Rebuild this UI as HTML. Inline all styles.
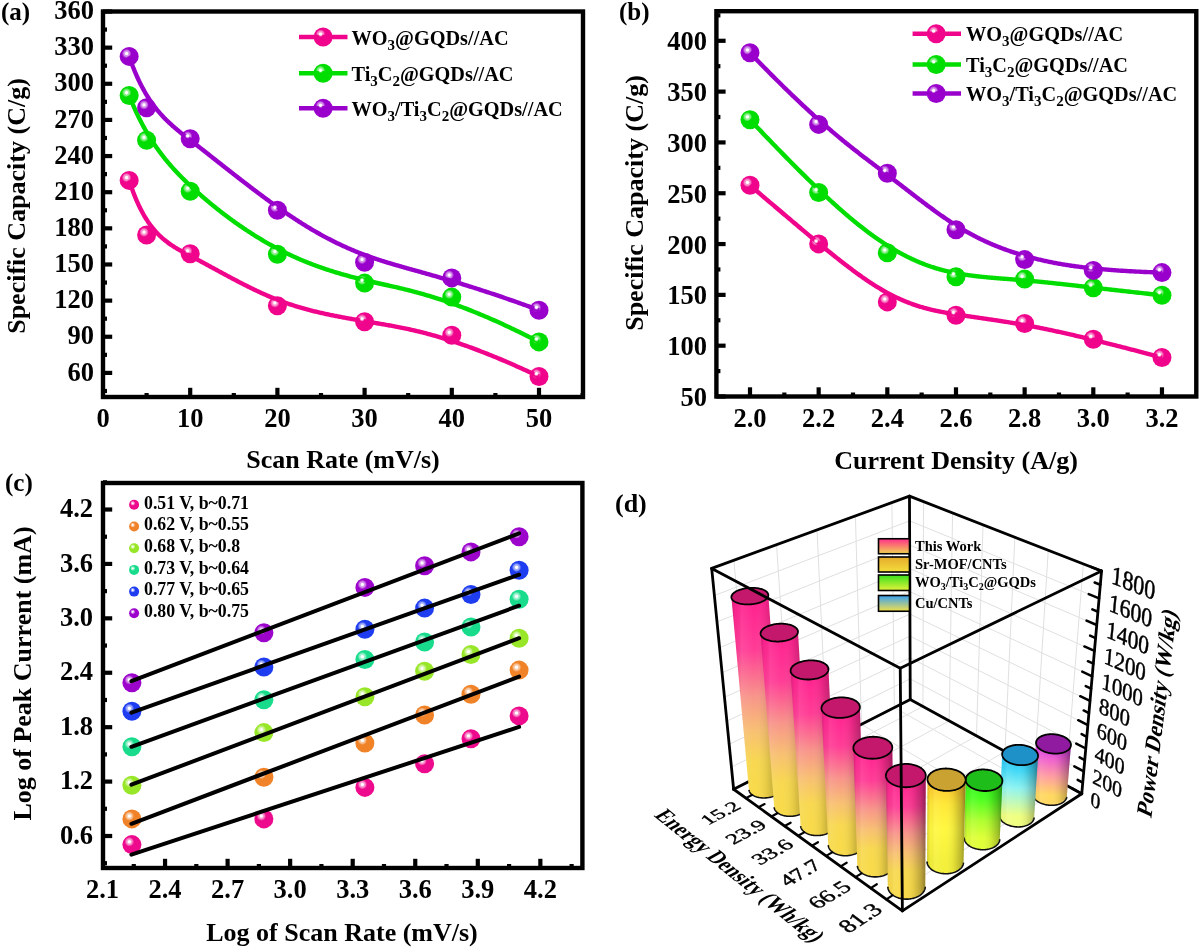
<!DOCTYPE html>
<html><head><meta charset="utf-8"><style>
html,body{margin:0;padding:0;background:#fff;}
svg{display:block;will-change:transform;}
text{font-family:"Liberation Serif",serif;}
</style></head><body>
<svg width="1200" height="947" viewBox="0 0 1200 947">
<defs><radialGradient id="g_pink" cx="0.365" cy="0.35" r="0.62"><stop offset="0" stop-color="#ffffff"/><stop offset="0.1" stop-color="#ffffff" stop-opacity="0.95"/><stop offset="0.24" stop-color="#f0048c" stop-opacity="0.45"/><stop offset="0.4" stop-color="#f0048c"/><stop offset="1" stop-color="#f0048c"/></radialGradient><radialGradient id="g_green" cx="0.365" cy="0.35" r="0.62"><stop offset="0" stop-color="#ffffff"/><stop offset="0.1" stop-color="#ffffff" stop-opacity="0.95"/><stop offset="0.24" stop-color="#00dd00" stop-opacity="0.45"/><stop offset="0.4" stop-color="#00dd00"/><stop offset="1" stop-color="#00dd00"/></radialGradient><radialGradient id="g_purple" cx="0.365" cy="0.35" r="0.62"><stop offset="0" stop-color="#ffffff"/><stop offset="0.1" stop-color="#ffffff" stop-opacity="0.95"/><stop offset="0.24" stop-color="#9a00cc" stop-opacity="0.45"/><stop offset="0.4" stop-color="#9a00cc"/><stop offset="1" stop-color="#9a00cc"/></radialGradient><radialGradient id="g_cpink" cx="0.365" cy="0.35" r="0.62"><stop offset="0" stop-color="#ffffff"/><stop offset="0.1" stop-color="#ffffff" stop-opacity="0.95"/><stop offset="0.24" stop-color="#ee0a8c" stop-opacity="0.45"/><stop offset="0.4" stop-color="#ee0a8c"/><stop offset="1" stop-color="#ee0a8c"/></radialGradient><radialGradient id="g_corange" cx="0.365" cy="0.35" r="0.62"><stop offset="0" stop-color="#ffffff"/><stop offset="0.1" stop-color="#ffffff" stop-opacity="0.95"/><stop offset="0.24" stop-color="#f08228" stop-opacity="0.45"/><stop offset="0.4" stop-color="#f08228"/><stop offset="1" stop-color="#f08228"/></radialGradient><radialGradient id="g_clime" cx="0.365" cy="0.35" r="0.62"><stop offset="0" stop-color="#ffffff"/><stop offset="0.1" stop-color="#ffffff" stop-opacity="0.95"/><stop offset="0.24" stop-color="#98e628" stop-opacity="0.45"/><stop offset="0.4" stop-color="#98e628"/><stop offset="1" stop-color="#98e628"/></radialGradient><radialGradient id="g_cteal" cx="0.365" cy="0.35" r="0.62"><stop offset="0" stop-color="#ffffff"/><stop offset="0.1" stop-color="#ffffff" stop-opacity="0.95"/><stop offset="0.24" stop-color="#18dc8c" stop-opacity="0.45"/><stop offset="0.4" stop-color="#18dc8c"/><stop offset="1" stop-color="#18dc8c"/></radialGradient><radialGradient id="g_cblue" cx="0.365" cy="0.35" r="0.62"><stop offset="0" stop-color="#ffffff"/><stop offset="0.1" stop-color="#ffffff" stop-opacity="0.95"/><stop offset="0.24" stop-color="#1e3cf0" stop-opacity="0.45"/><stop offset="0.4" stop-color="#1e3cf0"/><stop offset="1" stop-color="#1e3cf0"/></radialGradient><radialGradient id="g_cpurple" cx="0.365" cy="0.35" r="0.62"><stop offset="0" stop-color="#ffffff"/><stop offset="0.1" stop-color="#ffffff" stop-opacity="0.95"/><stop offset="0.24" stop-color="#9c04cc" stop-opacity="0.45"/><stop offset="0.4" stop-color="#9c04cc"/><stop offset="1" stop-color="#9c04cc"/></radialGradient><linearGradient id="bg0" gradientUnits="userSpaceOnUse" x1="749.88" y1="596" x2="765.62" y2="787.94"><stop offset="0" stop-color="#ff1e8e"/><stop offset="0.28" stop-color="#ff3c96"/><stop offset="0.52" stop-color="#f8948a"/><stop offset="0.7" stop-color="#f8c072"/><stop offset="0.86" stop-color="#f8d850"/><stop offset="1" stop-color="#f8da4a"/></linearGradient><linearGradient id="bs0" gradientUnits="userSpaceOnUse" x1="731.4" y1="0" x2="782.31" y2="0"><stop offset="0" stop-color="#000" stop-opacity="0.16"/><stop offset="0.08" stop-color="#000" stop-opacity="0.02"/><stop offset="0.2" stop-color="#fff" stop-opacity="0.08"/><stop offset="0.45" stop-color="#fff" stop-opacity="0"/><stop offset="0.7" stop-color="#000" stop-opacity="0.08"/><stop offset="0.88" stop-color="#000" stop-opacity="0.24"/><stop offset="1" stop-color="#000" stop-opacity="0.42"/></linearGradient><linearGradient id="bg1" gradientUnits="userSpaceOnUse" x1="779.3" y1="632.49" x2="791.24" y2="805.85"><stop offset="0" stop-color="#ff1e8e"/><stop offset="0.28" stop-color="#ff3c96"/><stop offset="0.52" stop-color="#f8948a"/><stop offset="0.7" stop-color="#f8c072"/><stop offset="0.86" stop-color="#f8d850"/><stop offset="1" stop-color="#f8da4a"/></linearGradient><linearGradient id="bs1" gradientUnits="userSpaceOnUse" x1="760.6" y1="0" x2="808.28" y2="0"><stop offset="0" stop-color="#000" stop-opacity="0.16"/><stop offset="0.08" stop-color="#000" stop-opacity="0.02"/><stop offset="0.2" stop-color="#fff" stop-opacity="0.08"/><stop offset="0.45" stop-color="#fff" stop-opacity="0"/><stop offset="0.7" stop-color="#000" stop-opacity="0.08"/><stop offset="0.88" stop-color="#000" stop-opacity="0.24"/><stop offset="1" stop-color="#000" stop-opacity="0.42"/></linearGradient><linearGradient id="bg2" gradientUnits="userSpaceOnUse" x1="809.56" y1="669.81" x2="818.04" y2="824.59"><stop offset="0" stop-color="#ff1e8e"/><stop offset="0.28" stop-color="#ff3c96"/><stop offset="0.52" stop-color="#f8948a"/><stop offset="0.7" stop-color="#f8c072"/><stop offset="0.86" stop-color="#f8d850"/><stop offset="1" stop-color="#f8da4a"/></linearGradient><linearGradient id="bs2" gradientUnits="userSpaceOnUse" x1="790.62" y1="0" x2="835.46" y2="0"><stop offset="0" stop-color="#000" stop-opacity="0.16"/><stop offset="0.08" stop-color="#000" stop-opacity="0.02"/><stop offset="0.2" stop-color="#fff" stop-opacity="0.08"/><stop offset="0.45" stop-color="#fff" stop-opacity="0"/><stop offset="0.7" stop-color="#000" stop-opacity="0.08"/><stop offset="0.88" stop-color="#000" stop-opacity="0.24"/><stop offset="1" stop-color="#000" stop-opacity="0.42"/></linearGradient><linearGradient id="bg3" gradientUnits="userSpaceOnUse" x1="840.69" y1="707.52" x2="846.13" y2="844.22"><stop offset="0" stop-color="#ff1e8e"/><stop offset="0.28" stop-color="#ff3c96"/><stop offset="0.52" stop-color="#f8948a"/><stop offset="0.7" stop-color="#f8c072"/><stop offset="0.86" stop-color="#f8d850"/><stop offset="1" stop-color="#f8da4a"/></linearGradient><linearGradient id="bs3" gradientUnits="userSpaceOnUse" x1="821.49" y1="0" x2="863.96" y2="0"><stop offset="0" stop-color="#000" stop-opacity="0.16"/><stop offset="0.08" stop-color="#000" stop-opacity="0.02"/><stop offset="0.2" stop-color="#fff" stop-opacity="0.08"/><stop offset="0.45" stop-color="#fff" stop-opacity="0"/><stop offset="0.7" stop-color="#000" stop-opacity="0.08"/><stop offset="0.88" stop-color="#000" stop-opacity="0.24"/><stop offset="1" stop-color="#000" stop-opacity="0.42"/></linearGradient><linearGradient id="bg4" gradientUnits="userSpaceOnUse" x1="872.82" y1="747.58" x2="875.59" y2="864.82"><stop offset="0" stop-color="#ff1e8e"/><stop offset="0.28" stop-color="#ff3c96"/><stop offset="0.52" stop-color="#f8948a"/><stop offset="0.7" stop-color="#f8c072"/><stop offset="0.86" stop-color="#f8d850"/><stop offset="1" stop-color="#f8da4a"/></linearGradient><linearGradient id="bs4" gradientUnits="userSpaceOnUse" x1="853.34" y1="0" x2="893.85" y2="0"><stop offset="0" stop-color="#000" stop-opacity="0.16"/><stop offset="0.08" stop-color="#000" stop-opacity="0.02"/><stop offset="0.2" stop-color="#fff" stop-opacity="0.08"/><stop offset="0.45" stop-color="#fff" stop-opacity="0"/><stop offset="0.7" stop-color="#000" stop-opacity="0.08"/><stop offset="0.88" stop-color="#000" stop-opacity="0.24"/><stop offset="1" stop-color="#000" stop-opacity="0.42"/></linearGradient><linearGradient id="bg5" gradientUnits="userSpaceOnUse" x1="1053.48" y1="743.77" x2="1049.8" y2="795.09"><stop offset="0" stop-color="#c82ee6"/><stop offset="0.3" stop-color="#f060d0"/><stop offset="0.65" stop-color="#ffa0a0"/><stop offset="1" stop-color="#ffd860"/></linearGradient><linearGradient id="bs5" gradientUnits="userSpaceOnUse" x1="1032.86" y1="0" x2="1070.96" y2="0"><stop offset="0" stop-color="#000" stop-opacity="0.16"/><stop offset="0.08" stop-color="#000" stop-opacity="0.02"/><stop offset="0.2" stop-color="#fff" stop-opacity="0.08"/><stop offset="0.45" stop-color="#fff" stop-opacity="0"/><stop offset="0.7" stop-color="#000" stop-opacity="0.08"/><stop offset="0.88" stop-color="#000" stop-opacity="0.24"/><stop offset="1" stop-color="#000" stop-opacity="0.42"/></linearGradient><linearGradient id="bg6" gradientUnits="userSpaceOnUse" x1="1020.07" y1="754.88" x2="1016.75" y2="816.16"><stop offset="0" stop-color="#28b8f0"/><stop offset="0.25" stop-color="#40d8f8"/><stop offset="0.55" stop-color="#90f4f0"/><stop offset="1" stop-color="#f0ff80"/></linearGradient><linearGradient id="bs6" gradientUnits="userSpaceOnUse" x1="999.4" y1="0" x2="1038.05" y2="0"><stop offset="0" stop-color="#000" stop-opacity="0.16"/><stop offset="0.08" stop-color="#000" stop-opacity="0.02"/><stop offset="0.2" stop-color="#fff" stop-opacity="0.08"/><stop offset="0.45" stop-color="#fff" stop-opacity="0"/><stop offset="0.7" stop-color="#000" stop-opacity="0.08"/><stop offset="0.88" stop-color="#000" stop-opacity="0.24"/><stop offset="1" stop-color="#000" stop-opacity="0.42"/></linearGradient><linearGradient id="bg7" gradientUnits="userSpaceOnUse" x1="984.03" y1="780.09" x2="981.95" y2="838.36"><stop offset="0" stop-color="#30f018"/><stop offset="0.3" stop-color="#48ff20"/><stop offset="0.7" stop-color="#b0ff30"/><stop offset="1" stop-color="#e0ff38"/></linearGradient><linearGradient id="bs7" gradientUnits="userSpaceOnUse" x1="964.18" y1="0" x2="1002.4" y2="0"><stop offset="0" stop-color="#000" stop-opacity="0.16"/><stop offset="0.08" stop-color="#000" stop-opacity="0.02"/><stop offset="0.2" stop-color="#fff" stop-opacity="0.08"/><stop offset="0.45" stop-color="#fff" stop-opacity="0"/><stop offset="0.7" stop-color="#000" stop-opacity="0.08"/><stop offset="0.88" stop-color="#000" stop-opacity="0.24"/><stop offset="1" stop-color="#000" stop-opacity="0.42"/></linearGradient><linearGradient id="bg8" gradientUnits="userSpaceOnUse" x1="946.54" y1="779.55" x2="945.26" y2="861.75"><stop offset="0" stop-color="#ffc02a"/><stop offset="0.3" stop-color="#ffe838"/><stop offset="0.6" stop-color="#fff840"/><stop offset="1" stop-color="#f4f03a"/></linearGradient><linearGradient id="bs8" gradientUnits="userSpaceOnUse" x1="927.04" y1="0" x2="965.63" y2="0"><stop offset="0" stop-color="#000" stop-opacity="0.16"/><stop offset="0.08" stop-color="#000" stop-opacity="0.02"/><stop offset="0.2" stop-color="#fff" stop-opacity="0.08"/><stop offset="0.45" stop-color="#fff" stop-opacity="0"/><stop offset="0.7" stop-color="#000" stop-opacity="0.08"/><stop offset="0.88" stop-color="#000" stop-opacity="0.24"/><stop offset="1" stop-color="#000" stop-opacity="0.42"/></linearGradient><linearGradient id="bg9" gradientUnits="userSpaceOnUse" x1="905.83" y1="775.41" x2="906.53" y2="886.45"><stop offset="0" stop-color="#ff1e8e"/><stop offset="0.28" stop-color="#ff3c96"/><stop offset="0.52" stop-color="#f8948a"/><stop offset="0.7" stop-color="#f8c072"/><stop offset="0.86" stop-color="#f8d850"/><stop offset="1" stop-color="#f8da4a"/></linearGradient><linearGradient id="bs9" gradientUnits="userSpaceOnUse" x1="885.93" y1="0" x2="925.75" y2="0"><stop offset="0" stop-color="#000" stop-opacity="0.16"/><stop offset="0.08" stop-color="#000" stop-opacity="0.02"/><stop offset="0.2" stop-color="#fff" stop-opacity="0.08"/><stop offset="0.45" stop-color="#fff" stop-opacity="0"/><stop offset="0.7" stop-color="#000" stop-opacity="0.08"/><stop offset="0.88" stop-color="#000" stop-opacity="0.24"/><stop offset="1" stop-color="#000" stop-opacity="0.42"/></linearGradient><linearGradient id="lg0" x1="0" y1="0" x2="0" y2="1"><stop offset="0" stop-color="#ff2e8a"/><stop offset="1" stop-color="#f2d450"/></linearGradient><linearGradient id="lg1" x1="0" y1="0" x2="0" y2="1"><stop offset="0" stop-color="#e6aa2c"/><stop offset="1" stop-color="#f2de3c"/></linearGradient><linearGradient id="lg2" x1="0" y1="0" x2="0" y2="1"><stop offset="0" stop-color="#38e01c"/><stop offset="1" stop-color="#e4f23c"/></linearGradient><linearGradient id="lg3" x1="0" y1="0" x2="0" y2="1"><stop offset="0" stop-color="#38a0f4"/><stop offset="1" stop-color="#f2e04a"/></linearGradient></defs>
<rect width="1200" height="947" fill="#fff"/>
<rect x="103" y="11.5" width="480" height="385.5" fill="none" stroke="#000" stroke-width="4.4"/>
<line x1="103" y1="372.91" x2="112.2" y2="372.91" stroke="#000" stroke-width="4.2"/><line x1="103" y1="336.76" x2="112.2" y2="336.76" stroke="#000" stroke-width="4.2"/><line x1="103" y1="300.62" x2="112.2" y2="300.62" stroke="#000" stroke-width="4.2"/><line x1="103" y1="264.48" x2="112.2" y2="264.48" stroke="#000" stroke-width="4.2"/><line x1="103" y1="228.34" x2="112.2" y2="228.34" stroke="#000" stroke-width="4.2"/><line x1="103" y1="192.2" x2="112.2" y2="192.2" stroke="#000" stroke-width="4.2"/><line x1="103" y1="156.06" x2="112.2" y2="156.06" stroke="#000" stroke-width="4.2"/><line x1="103" y1="119.92" x2="112.2" y2="119.92" stroke="#000" stroke-width="4.2"/><line x1="103" y1="83.78" x2="112.2" y2="83.78" stroke="#000" stroke-width="4.2"/><line x1="103" y1="47.64" x2="112.2" y2="47.64" stroke="#000" stroke-width="4.2"/><line x1="103" y1="11.5" x2="112.2" y2="11.5" stroke="#000" stroke-width="4.2"/>
<line x1="103" y1="390.98" x2="107" y2="390.98" stroke="#000" stroke-width="4.2"/><line x1="103" y1="354.84" x2="107" y2="354.84" stroke="#000" stroke-width="4.2"/><line x1="103" y1="318.69" x2="107" y2="318.69" stroke="#000" stroke-width="4.2"/><line x1="103" y1="282.55" x2="107" y2="282.55" stroke="#000" stroke-width="4.2"/><line x1="103" y1="246.41" x2="107" y2="246.41" stroke="#000" stroke-width="4.2"/><line x1="103" y1="210.27" x2="107" y2="210.27" stroke="#000" stroke-width="4.2"/><line x1="103" y1="174.13" x2="107" y2="174.13" stroke="#000" stroke-width="4.2"/><line x1="103" y1="137.99" x2="107" y2="137.99" stroke="#000" stroke-width="4.2"/><line x1="103" y1="101.85" x2="107" y2="101.85" stroke="#000" stroke-width="4.2"/><line x1="103" y1="65.71" x2="107" y2="65.71" stroke="#000" stroke-width="4.2"/><line x1="103" y1="29.57" x2="107" y2="29.57" stroke="#000" stroke-width="4.2"/>
<line x1="190.2" y1="397" x2="190.2" y2="387.8" stroke="#000" stroke-width="4.2"/><line x1="277.4" y1="397" x2="277.4" y2="387.8" stroke="#000" stroke-width="4.2"/><line x1="364.6" y1="397" x2="364.6" y2="387.8" stroke="#000" stroke-width="4.2"/><line x1="451.8" y1="397" x2="451.8" y2="387.8" stroke="#000" stroke-width="4.2"/><line x1="539" y1="397" x2="539" y2="387.8" stroke="#000" stroke-width="4.2"/>
<line x1="146.6" y1="397" x2="146.6" y2="393" stroke="#000" stroke-width="4.2"/><line x1="233.8" y1="397" x2="233.8" y2="393" stroke="#000" stroke-width="4.2"/><line x1="321" y1="397" x2="321" y2="393" stroke="#000" stroke-width="4.2"/><line x1="408.2" y1="397" x2="408.2" y2="393" stroke="#000" stroke-width="4.2"/><line x1="495.4" y1="397" x2="495.4" y2="393" stroke="#000" stroke-width="4.2"/><line x1="582.6" y1="397" x2="582.6" y2="393" stroke="#000" stroke-width="4.2"/>
<g font-family="Liberation Serif" font-weight="bold" fill="#000">
<text x="94" y="380.51" font-size="26.5" text-anchor="end" >60</text>
<text x="94" y="344.37" font-size="26.5" text-anchor="end" >90</text>
<text x="94" y="308.22" font-size="26.5" text-anchor="end" >120</text>
<text x="94" y="272.08" font-size="26.5" text-anchor="end" >150</text>
<text x="94" y="235.94" font-size="26.5" text-anchor="end" >180</text>
<text x="94" y="199.8" font-size="26.5" text-anchor="end" >210</text>
<text x="94" y="163.66" font-size="26.5" text-anchor="end" >240</text>
<text x="94" y="127.52" font-size="26.5" text-anchor="end" >270</text>
<text x="94" y="91.38" font-size="26.5" text-anchor="end" >300</text>
<text x="94" y="55.24" font-size="26.5" text-anchor="end" >330</text>
<text x="94" y="19.1" font-size="26.5" text-anchor="end" >360</text>
<text x="103" y="427" font-size="26.5" text-anchor="middle" >0</text>
<text x="190.2" y="427" font-size="26.5" text-anchor="middle" >10</text>
<text x="277.4" y="427" font-size="26.5" text-anchor="middle" >20</text>
<text x="364.6" y="427" font-size="26.5" text-anchor="middle" >30</text>
<text x="451.8" y="427" font-size="26.5" text-anchor="middle" >40</text>
<text x="539" y="427" font-size="26.5" text-anchor="middle" >50</text>
<text x="343" y="467.5" font-size="26" text-anchor="middle" >Scan Rate (mV/s)</text>
<text transform="translate(24.5,206) rotate(-90)" font-size="26" text-anchor="middle">Specific Capacity (C/g)</text>
<text x="1" y="20" font-size="25" text-anchor="start" >(a)</text>
</g>
<path d="M129.16,180.4 L129.69,182.03 L130.21,183.63 L130.75,185.2 L131.28,186.75 L131.82,188.28 L132.35,189.77 L132.9,191.24 L133.44,192.69 L133.99,194.11 L134.54,195.51 L135.09,196.88 L135.64,198.23 L136.2,199.55 L136.76,200.85 L137.32,202.13 L137.89,203.38 L138.45,204.62 L139.02,205.83 L139.6,207.02 L140.17,208.18 L140.75,209.33 L141.33,210.45 L141.91,211.56 L142.5,212.64 L143.08,213.7 L143.67,214.74 L144.27,215.77 L144.86,216.77 L145.46,217.76 L146.06,218.72 L146.66,219.67 L147.27,220.6 L147.87,221.52 L148.48,222.41 L149.1,223.29 L149.71,224.15 L150.33,224.99 L150.95,225.82 L151.57,226.63 L152.2,227.43 L152.82,228.21 L153.45,228.98 L154.09,229.73 L154.72,230.47 L155.36,231.19 L156,231.9 L156.64,232.59 L157.28,233.28 L157.93,233.94 L158.58,234.6 L159.23,235.25 L159.89,235.88 L160.54,236.5 L161.2,237.11 L161.86,237.7 L162.53,238.29 L163.19,238.86 L163.86,239.43 L164.53,239.99 L165.2,240.53 L165.88,241.07 L166.56,241.59 L167.24,242.11 L167.92,242.62 L168.61,243.12 L169.29,243.62 L169.98,244.1 L170.68,244.58 L171.37,245.05 L172.07,245.52 L172.76,245.98 L173.47,246.43 L174.17,246.88 L174.88,247.32 L175.58,247.75 L176.29,248.18 L177.01,248.61 L177.72,249.03 L178.44,249.45 L179.16,249.86 L179.88,250.27 L180.61,250.68 L181.33,251.08 L182.06,251.49 L182.79,251.89 L183.52,252.28 L184.26,252.68 L185,253.07 L185.74,253.47 L186.48,253.86 L187.22,254.25 L187.97,254.64 L188.72,255.04 L189.47,255.43 L190.22,255.82 L190.98,256.22 L191.74,256.61 L192.5,257.01 L193.26,257.41 L194.02,257.81 L194.79,258.21 L195.56,258.62 L196.33,259.03 L197.1,259.44 L197.88,259.85 L198.66,260.26 L199.44,260.68 L200.22,261.1 L201,261.52 L201.78,261.94 L202.57,262.37 L203.36,262.79 L204.15,263.22 L204.95,263.65 L205.74,264.08 L206.54,264.51 L207.34,264.95 L208.14,265.38 L208.94,265.82 L209.74,266.26 L210.55,266.69 L211.35,267.13 L212.16,267.58 L212.97,268.02 L213.79,268.46 L214.6,268.9 L215.42,269.35 L216.23,269.79 L217.05,270.24 L217.87,270.69 L218.69,271.13 L219.52,271.58 L220.34,272.03 L221.17,272.48 L222,272.93 L222.83,273.38 L223.66,273.83 L224.49,274.28 L225.32,274.73 L226.16,275.18 L226.99,275.63 L227.83,276.08 L228.67,276.53 L229.51,276.98 L230.35,277.42 L231.19,277.87 L232.03,278.32 L232.88,278.77 L233.73,279.22 L234.57,279.66 L235.42,280.11 L236.27,280.56 L237.12,281 L237.97,281.44 L238.82,281.89 L239.67,282.33 L240.53,282.77 L241.38,283.21 L242.24,283.65 L243.1,284.09 L243.95,284.52 L244.81,284.96 L245.67,285.39 L246.53,285.83 L247.39,286.26 L248.25,286.69 L249.11,287.11 L249.98,287.54 L250.84,287.97 L251.71,288.39 L252.57,288.81 L253.44,289.23 L254.3,289.64 L255.17,290.06 L256.04,290.47 L256.9,290.88 L257.77,291.29 L258.64,291.7 L259.51,292.1 L260.38,292.5 L261.25,292.9 L262.12,293.3 L262.99,293.69 L263.86,294.08 L264.74,294.47 L265.61,294.86 L266.48,295.24 L267.35,295.62 L268.23,296 L269.1,296.37 L269.97,296.74 L270.85,297.11 L271.72,297.48 L272.59,297.84 L273.47,298.2 L274.34,298.55 L275.21,298.9 L276.09,299.25 L276.96,299.6 L277.84,299.94 L278.71,300.27 L279.59,300.61 L280.46,300.94 L281.33,301.26 L282.21,301.59 L283.08,301.91 L283.96,302.22 L284.84,302.54 L285.71,302.85 L286.59,303.15 L287.46,303.46 L288.34,303.76 L289.22,304.05 L290.1,304.35 L290.98,304.64 L291.86,304.93 L292.74,305.21 L293.62,305.49 L294.5,305.77 L295.38,306.05 L296.27,306.32 L297.15,306.59 L298.04,306.86 L298.93,307.13 L299.81,307.39 L300.7,307.65 L301.59,307.91 L302.48,308.16 L303.38,308.41 L304.27,308.66 L305.17,308.91 L306.06,309.16 L306.96,309.4 L307.86,309.64 L308.76,309.88 L309.66,310.12 L310.57,310.35 L311.47,310.58 L312.38,310.81 L313.29,311.04 L314.2,311.27 L315.11,311.49 L316.03,311.71 L316.95,311.93 L317.87,312.15 L318.79,312.37 L319.71,312.58 L320.63,312.8 L321.56,313.01 L322.49,313.22 L323.42,313.43 L324.35,313.63 L325.29,313.84 L326.23,314.04 L327.17,314.24 L328.11,314.45 L329.06,314.65 L330.01,314.84 L330.96,315.04 L331.91,315.24 L332.87,315.43 L333.82,315.63 L334.79,315.82 L335.75,316.01 L336.72,316.2 L337.69,316.39 L338.66,316.58 L339.63,316.77 L340.61,316.96 L341.6,317.14 L342.58,317.33 L343.57,317.51 L344.56,317.7 L345.55,317.88 L346.55,318.06 L347.55,318.24 L348.56,318.43 L349.57,318.61 L350.58,318.79 L351.59,318.97 L352.61,319.15 L353.63,319.33 L354.66,319.51 L355.69,319.69 L356.72,319.87 L357.76,320.05 L358.8,320.23 L359.84,320.4 L360.89,320.58 L361.94,320.76 L363,320.94 L364.06,321.12 L365.12,321.3 L366.19,321.48 L367.26,321.66 L368.34,321.84 L369.42,322.02 L370.5,322.2 L371.59,322.38 L372.69,322.56 L373.79,322.74 L374.89,322.93 L376,323.11 L377.11,323.29 L378.23,323.48 L379.35,323.67 L380.48,323.86 L381.62,324.05 L382.76,324.24 L383.91,324.44 L385.07,324.64 L386.23,324.84 L387.4,325.05 L388.58,325.25 L389.76,325.47 L390.96,325.68 L392.16,325.9 L393.37,326.12 L394.58,326.35 L395.81,326.58 L397.05,326.82 L398.29,327.06 L399.55,327.31 L400.81,327.56 L402.08,327.82 L403.37,328.08 L404.66,328.35 L405.96,328.63 L407.28,328.91 L408.6,329.19 L409.94,329.49 L411.29,329.79 L412.65,330.1 L414.02,330.42 L415.4,330.74 L416.8,331.07 L418.21,331.41 L419.63,331.76 L421.06,332.11 L422.51,332.48 L423.97,332.85 L425.45,333.23 L426.93,333.62 L428.43,334.03 L429.95,334.44 L431.48,334.86 L433.03,335.29 L434.59,335.73 L436.16,336.18 L437.75,336.64 L439.36,337.11 L440.98,337.59 L442.62,338.09 L444.27,338.59 L445.94,339.11 L447.63,339.64 L449.33,340.18 L451.05,340.74 L452.79,341.3 L454.54,341.88 L456.32,342.47 L458.11,343.08 L459.92,343.69 L461.74,344.33 L463.59,344.97 L465.46,345.63 L467.34,346.3 L469.24,346.99 L471.17,347.69 L473.11,348.41 L475.07,349.14 L477.05,349.89 L479.06,350.65 L481.08,351.43 L483.12,352.22 L485.19,353.03 L487.28,353.85 L489.38,354.69 L491.51,355.55 L493.67,356.43 L495.84,357.32 L498.04,358.23 L500.25,359.15 L502.5,360.1 L504.76,361.06 L507.05,362.04 L509.36,363.04 L511.69,364.05 L514.05,365.09 L516.44,366.14 L518.84,367.21 L521.27,368.3 L523.73,369.42 L526.21,370.55 L528.72,371.7 L531.25,372.87 L533.81,374.06 L536.39,375.27 L539,376.5" fill="none" stroke="#f0048c" stroke-width="4.4"/>
<path d="M129.16,95.5 L129.69,96.84 L130.21,98.17 L130.75,99.48 L131.28,100.79 L131.82,102.08 L132.35,103.36 L132.9,104.63 L133.44,105.89 L133.99,107.14 L134.54,108.38 L135.09,109.61 L135.64,110.83 L136.2,112.04 L136.76,113.23 L137.32,114.42 L137.89,115.6 L138.45,116.77 L139.02,117.92 L139.6,119.07 L140.17,120.21 L140.75,121.34 L141.33,122.46 L141.91,123.57 L142.5,124.67 L143.08,125.76 L143.67,126.84 L144.27,127.91 L144.86,128.98 L145.46,130.03 L146.06,131.08 L146.66,132.12 L147.27,133.15 L147.87,134.17 L148.48,135.19 L149.1,136.19 L149.71,137.19 L150.33,138.18 L150.95,139.16 L151.57,140.14 L152.2,141.11 L152.82,142.07 L153.45,143.02 L154.09,143.96 L154.72,144.9 L155.36,145.83 L156,146.76 L156.64,147.67 L157.28,148.58 L157.93,149.49 L158.58,150.38 L159.23,151.27 L159.89,152.16 L160.54,153.04 L161.2,153.91 L161.86,154.77 L162.53,155.63 L163.19,156.49 L163.86,157.33 L164.53,158.18 L165.2,159.01 L165.88,159.85 L166.56,160.67 L167.24,161.49 L167.92,162.31 L168.61,163.12 L169.29,163.93 L169.98,164.73 L170.68,165.52 L171.37,166.32 L172.07,167.1 L172.76,167.89 L173.47,168.66 L174.17,169.44 L174.88,170.21 L175.58,170.98 L176.29,171.74 L177.01,172.5 L177.72,173.25 L178.44,174 L179.16,174.75 L179.88,175.5 L180.61,176.24 L181.33,176.98 L182.06,177.71 L182.79,178.44 L183.52,179.17 L184.26,179.9 L185,180.62 L185.74,181.35 L186.48,182.06 L187.22,182.78 L187.97,183.5 L188.72,184.21 L189.47,184.92 L190.22,185.63 L190.98,186.33 L191.74,187.04 L192.5,187.74 L193.26,188.44 L194.02,189.14 L194.79,189.84 L195.56,190.54 L196.33,191.23 L197.1,191.93 L197.88,192.62 L198.66,193.31 L199.44,194 L200.22,194.69 L201,195.38 L201.78,196.06 L202.57,196.75 L203.36,197.43 L204.15,198.11 L204.95,198.79 L205.74,199.47 L206.54,200.14 L207.34,200.82 L208.14,201.49 L208.94,202.16 L209.74,202.83 L210.55,203.5 L211.35,204.16 L212.16,204.83 L212.97,205.49 L213.79,206.15 L214.6,206.81 L215.42,207.46 L216.23,208.12 L217.05,208.77 L217.87,209.42 L218.69,210.07 L219.52,210.72 L220.34,211.36 L221.17,212 L222,212.64 L222.83,213.28 L223.66,213.92 L224.49,214.55 L225.32,215.18 L226.16,215.81 L226.99,216.44 L227.83,217.06 L228.67,217.69 L229.51,218.31 L230.35,218.93 L231.19,219.54 L232.03,220.16 L232.88,220.77 L233.73,221.38 L234.57,221.98 L235.42,222.59 L236.27,223.19 L237.12,223.79 L237.97,224.39 L238.82,224.98 L239.67,225.57 L240.53,226.16 L241.38,226.75 L242.24,227.33 L243.1,227.91 L243.95,228.49 L244.81,229.07 L245.67,229.64 L246.53,230.22 L247.39,230.78 L248.25,231.35 L249.11,231.91 L249.98,232.47 L250.84,233.03 L251.71,233.58 L252.57,234.14 L253.44,234.68 L254.3,235.23 L255.17,235.77 L256.04,236.31 L256.9,236.85 L257.77,237.39 L258.64,237.92 L259.51,238.45 L260.38,238.97 L261.25,239.49 L262.12,240.01 L262.99,240.53 L263.86,241.04 L264.74,241.55 L265.61,242.06 L266.48,242.56 L267.35,243.06 L268.23,243.56 L269.1,244.05 L269.97,244.55 L270.85,245.03 L271.72,245.52 L272.59,246 L273.47,246.48 L274.34,246.95 L275.21,247.42 L276.09,247.89 L276.96,248.35 L277.84,248.81 L278.71,249.27 L279.59,249.72 L280.46,250.17 L281.33,250.62 L282.21,251.07 L283.08,251.51 L283.96,251.94 L284.84,252.38 L285.71,252.81 L286.59,253.24 L287.46,253.66 L288.34,254.08 L289.22,254.5 L290.1,254.91 L290.98,255.33 L291.86,255.73 L292.74,256.14 L293.62,256.54 L294.5,256.94 L295.38,257.34 L296.27,257.73 L297.15,258.13 L298.04,258.51 L298.93,258.9 L299.81,259.28 L300.7,259.66 L301.59,260.04 L302.48,260.41 L303.38,260.79 L304.27,261.16 L305.17,261.52 L306.06,261.89 L306.96,262.25 L307.86,262.61 L308.76,262.96 L309.66,263.32 L310.57,263.67 L311.47,264.02 L312.38,264.36 L313.29,264.71 L314.2,265.05 L315.11,265.39 L316.03,265.73 L316.95,266.06 L317.87,266.39 L318.79,266.72 L319.71,267.05 L320.63,267.38 L321.56,267.7 L322.49,268.02 L323.42,268.34 L324.35,268.66 L325.29,268.98 L326.23,269.29 L327.17,269.6 L328.11,269.91 L329.06,270.22 L330.01,270.52 L330.96,270.83 L331.91,271.13 L332.87,271.43 L333.82,271.73 L334.79,272.02 L335.75,272.32 L336.72,272.61 L337.69,272.9 L338.66,273.19 L339.63,273.48 L340.61,273.77 L341.6,274.05 L342.58,274.33 L343.57,274.62 L344.56,274.9 L345.55,275.18 L346.55,275.45 L347.55,275.73 L348.56,276 L349.57,276.28 L350.58,276.55 L351.59,276.82 L352.61,277.09 L353.63,277.35 L354.66,277.62 L355.69,277.89 L356.72,278.15 L357.76,278.41 L358.8,278.68 L359.84,278.94 L360.89,279.2 L361.94,279.45 L363,279.71 L364.06,279.97 L365.12,280.22 L366.19,280.48 L367.26,280.73 L368.34,280.98 L369.42,281.24 L370.5,281.49 L371.59,281.74 L372.69,281.99 L373.79,282.24 L374.89,282.48 L376,282.73 L377.11,282.98 L378.23,283.23 L379.35,283.48 L380.48,283.73 L381.62,283.98 L382.76,284.23 L383.91,284.49 L385.07,284.74 L386.23,285 L387.4,285.26 L388.58,285.52 L389.76,285.79 L390.96,286.06 L392.16,286.33 L393.37,286.6 L394.58,286.88 L395.81,287.16 L397.05,287.45 L398.29,287.74 L399.55,288.04 L400.81,288.34 L402.08,288.64 L403.37,288.95 L404.66,289.27 L405.96,289.59 L407.28,289.92 L408.6,290.25 L409.94,290.59 L411.29,290.94 L412.65,291.29 L414.02,291.65 L415.4,292.02 L416.8,292.4 L418.21,292.78 L419.63,293.18 L421.06,293.58 L422.51,293.99 L423.97,294.41 L425.45,294.83 L426.93,295.27 L428.43,295.72 L429.95,296.17 L431.48,296.64 L433.03,297.11 L434.59,297.6 L436.16,298.1 L437.75,298.61 L439.36,299.13 L440.98,299.66 L442.62,300.2 L444.27,300.76 L445.94,301.32 L447.63,301.9 L449.33,302.5 L451.05,303.1 L452.79,303.72 L454.54,304.35 L456.32,305 L458.11,305.65 L459.92,306.33 L461.74,307.01 L463.59,307.72 L465.46,308.43 L467.34,309.16 L469.24,309.91 L471.17,310.67 L473.11,311.45 L475.07,312.24 L477.05,313.05 L479.06,313.88 L481.08,314.72 L483.12,315.58 L485.19,316.46 L487.28,317.35 L489.38,318.27 L491.51,319.2 L493.67,320.14 L495.84,321.11 L498.04,322.09 L500.25,323.1 L502.5,324.12 L504.76,325.16 L507.05,326.22 L509.36,327.3 L511.69,328.41 L514.05,329.53 L516.44,330.67 L518.84,331.83 L521.27,333.01 L523.73,334.22 L526.21,335.44 L528.72,336.69 L531.25,337.96 L533.81,339.25 L536.39,340.56 L539,341.9" fill="none" stroke="#00dd00" stroke-width="4.4"/>
<path d="M129.16,56.4 L129.69,57.93 L130.21,59.44 L130.75,60.93 L131.28,62.4 L131.82,63.85 L132.35,65.28 L132.9,66.69 L133.44,68.07 L133.99,69.44 L134.54,70.79 L135.09,72.12 L135.64,73.43 L136.2,74.72 L136.76,76 L137.32,77.25 L137.89,78.49 L138.45,79.71 L139.02,80.91 L139.6,82.1 L140.17,83.27 L140.75,84.42 L141.33,85.55 L141.91,86.67 L142.5,87.78 L143.08,88.86 L143.67,89.93 L144.27,90.99 L144.86,92.03 L145.46,93.06 L146.06,94.07 L146.66,95.07 L147.27,96.05 L147.87,97.02 L148.48,97.98 L149.1,98.92 L149.71,99.85 L150.33,100.76 L150.95,101.67 L151.57,102.56 L152.2,103.44 L152.82,104.31 L153.45,105.16 L154.09,106.01 L154.72,106.84 L155.36,107.66 L156,108.47 L156.64,109.28 L157.28,110.07 L157.93,110.85 L158.58,111.62 L159.23,112.38 L159.89,113.13 L160.54,113.87 L161.2,114.61 L161.86,115.34 L162.53,116.05 L163.19,116.76 L163.86,117.46 L164.53,118.16 L165.2,118.85 L165.88,119.53 L166.56,120.2 L167.24,120.86 L167.92,121.52 L168.61,122.18 L169.29,122.83 L169.98,123.47 L170.68,124.11 L171.37,124.74 L172.07,125.36 L172.76,125.99 L173.47,126.6 L174.17,127.22 L174.88,127.83 L175.58,128.43 L176.29,129.03 L177.01,129.63 L177.72,130.23 L178.44,130.82 L179.16,131.41 L179.88,132 L180.61,132.59 L181.33,133.17 L182.06,133.76 L182.79,134.34 L183.52,134.92 L184.26,135.5 L185,136.08 L185.74,136.66 L186.48,137.24 L187.22,137.82 L187.97,138.4 L188.72,138.98 L189.47,139.56 L190.22,140.14 L190.98,140.72 L191.74,141.31 L192.5,141.89 L193.26,142.48 L194.02,143.07 L194.79,143.67 L195.56,144.26 L196.33,144.86 L197.1,145.46 L197.88,146.06 L198.66,146.67 L199.44,147.28 L200.22,147.89 L201,148.5 L201.78,149.11 L202.57,149.73 L203.36,150.35 L204.15,150.97 L204.95,151.59 L205.74,152.21 L206.54,152.84 L207.34,153.46 L208.14,154.09 L208.94,154.72 L209.74,155.36 L210.55,155.99 L211.35,156.63 L212.16,157.26 L212.97,157.9 L213.79,158.54 L214.6,159.18 L215.42,159.82 L216.23,160.47 L217.05,161.11 L217.87,161.76 L218.69,162.41 L219.52,163.05 L220.34,163.7 L221.17,164.35 L222,165 L222.83,165.66 L223.66,166.31 L224.49,166.96 L225.32,167.62 L226.16,168.27 L226.99,168.93 L227.83,169.59 L228.67,170.25 L229.51,170.9 L230.35,171.56 L231.19,172.22 L232.03,172.88 L232.88,173.54 L233.73,174.2 L234.57,174.86 L235.42,175.52 L236.27,176.18 L237.12,176.84 L237.97,177.51 L238.82,178.17 L239.67,178.83 L240.53,179.49 L241.38,180.15 L242.24,180.81 L243.1,181.47 L243.95,182.13 L244.81,182.8 L245.67,183.46 L246.53,184.12 L247.39,184.78 L248.25,185.43 L249.11,186.09 L249.98,186.75 L250.84,187.41 L251.71,188.07 L252.57,188.72 L253.44,189.38 L254.3,190.04 L255.17,190.69 L256.04,191.34 L256.9,192 L257.77,192.65 L258.64,193.3 L259.51,193.95 L260.38,194.6 L261.25,195.25 L262.12,195.89 L262.99,196.54 L263.86,197.18 L264.74,197.83 L265.61,198.47 L266.48,199.11 L267.35,199.75 L268.23,200.38 L269.1,201.02 L269.97,201.66 L270.85,202.29 L271.72,202.92 L272.59,203.55 L273.47,204.18 L274.34,204.81 L275.21,205.43 L276.09,206.05 L276.96,206.67 L277.84,207.29 L278.71,207.91 L279.59,208.52 L280.46,209.14 L281.33,209.75 L282.21,210.36 L283.08,210.97 L283.96,211.57 L284.84,212.17 L285.71,212.78 L286.59,213.37 L287.46,213.97 L288.34,214.57 L289.22,215.16 L290.1,215.75 L290.98,216.34 L291.86,216.93 L292.74,217.51 L293.62,218.09 L294.5,218.67 L295.38,219.25 L296.27,219.83 L297.15,220.4 L298.04,220.97 L298.93,221.54 L299.81,222.11 L300.7,222.68 L301.59,223.24 L302.48,223.8 L303.38,224.36 L304.27,224.92 L305.17,225.47 L306.06,226.02 L306.96,226.57 L307.86,227.12 L308.76,227.67 L309.66,228.21 L310.57,228.75 L311.47,229.29 L312.38,229.83 L313.29,230.36 L314.2,230.89 L315.11,231.42 L316.03,231.95 L316.95,232.47 L317.87,232.99 L318.79,233.51 L319.71,234.03 L320.63,234.55 L321.56,235.06 L322.49,235.57 L323.42,236.08 L324.35,236.58 L325.29,237.08 L326.23,237.59 L327.17,238.08 L328.11,238.58 L329.06,239.07 L330.01,239.56 L330.96,240.05 L331.91,240.54 L332.87,241.02 L333.82,241.5 L334.79,241.98 L335.75,242.45 L336.72,242.93 L337.69,243.4 L338.66,243.86 L339.63,244.33 L340.61,244.79 L341.6,245.25 L342.58,245.71 L343.57,246.17 L344.56,246.62 L345.55,247.07 L346.55,247.51 L347.55,247.96 L348.56,248.4 L349.57,248.84 L350.58,249.27 L351.59,249.71 L352.61,250.14 L353.63,250.57 L354.66,250.99 L355.69,251.42 L356.72,251.84 L357.76,252.25 L358.8,252.67 L359.84,253.08 L360.89,253.49 L361.94,253.89 L363,254.3 L364.06,254.7 L365.12,255.1 L366.19,255.49 L367.26,255.88 L368.34,256.27 L369.42,256.66 L370.5,257.04 L371.59,257.42 L372.69,257.8 L373.79,258.17 L374.89,258.55 L376,258.92 L377.11,259.28 L378.23,259.65 L379.35,260.01 L380.48,260.38 L381.62,260.74 L382.76,261.1 L383.91,261.45 L385.07,261.81 L386.23,262.17 L387.4,262.52 L388.58,262.88 L389.76,263.23 L390.96,263.59 L392.16,263.94 L393.37,264.3 L394.58,264.66 L395.81,265.01 L397.05,265.37 L398.29,265.73 L399.55,266.09 L400.81,266.45 L402.08,266.81 L403.37,267.17 L404.66,267.54 L405.96,267.91 L407.28,268.28 L408.6,268.65 L409.94,269.02 L411.29,269.4 L412.65,269.78 L414.02,270.16 L415.4,270.55 L416.8,270.94 L418.21,271.33 L419.63,271.73 L421.06,272.13 L422.51,272.54 L423.97,272.95 L425.45,273.36 L426.93,273.78 L428.43,274.21 L429.95,274.64 L431.48,275.07 L433.03,275.51 L434.59,275.96 L436.16,276.41 L437.75,276.86 L439.36,277.33 L440.98,277.8 L442.62,278.27 L444.27,278.76 L445.94,279.24 L447.63,279.74 L449.33,280.24 L451.05,280.76 L452.79,281.27 L454.54,281.8 L456.32,282.33 L458.11,282.88 L459.92,283.43 L461.74,283.98 L463.59,284.55 L465.46,285.13 L467.34,285.71 L469.24,286.31 L471.17,286.91 L473.11,287.52 L475.07,288.14 L477.05,288.78 L479.06,289.42 L481.08,290.07 L483.12,290.73 L485.19,291.41 L487.28,292.09 L489.38,292.78 L491.51,293.49 L493.67,294.21 L495.84,294.94 L498.04,295.68 L500.25,296.43 L502.5,297.19 L504.76,297.97 L507.05,298.75 L509.36,299.56 L511.69,300.37 L514.05,301.19 L516.44,302.03 L518.84,302.89 L521.27,303.75 L523.73,304.63 L526.21,305.52 L528.72,306.43 L531.25,307.35 L533.81,308.29 L536.39,309.24 L539,310.2" fill="none" stroke="#9a00cc" stroke-width="4.4"/>
<circle cx="129.16" cy="180.4" r="9.5" fill="url(#g_pink)"/>
<circle cx="146.6" cy="235" r="9.5" fill="url(#g_pink)"/>
<circle cx="190.2" cy="253.7" r="9.5" fill="url(#g_pink)"/>
<circle cx="277.4" cy="305.8" r="9.5" fill="url(#g_pink)"/>
<circle cx="364.6" cy="321.7" r="9.5" fill="url(#g_pink)"/>
<circle cx="451.8" cy="335.2" r="9.5" fill="url(#g_pink)"/>
<circle cx="539" cy="376.5" r="9.5" fill="url(#g_pink)"/>
<circle cx="129.16" cy="95.5" r="9.5" fill="url(#g_green)"/>
<circle cx="146.6" cy="140.2" r="9.5" fill="url(#g_green)"/>
<circle cx="190.2" cy="191.2" r="9.5" fill="url(#g_green)"/>
<circle cx="277.4" cy="254.3" r="9.5" fill="url(#g_green)"/>
<circle cx="364.6" cy="283.1" r="9.5" fill="url(#g_green)"/>
<circle cx="451.8" cy="297.1" r="9.5" fill="url(#g_green)"/>
<circle cx="539" cy="341.9" r="9.5" fill="url(#g_green)"/>
<circle cx="129.16" cy="56.4" r="9.5" fill="url(#g_purple)"/>
<circle cx="146.6" cy="107.7" r="9.5" fill="url(#g_purple)"/>
<circle cx="190.2" cy="138.8" r="9.5" fill="url(#g_purple)"/>
<circle cx="277.4" cy="210.2" r="9.5" fill="url(#g_purple)"/>
<circle cx="364.6" cy="262.3" r="9.5" fill="url(#g_purple)"/>
<circle cx="451.8" cy="277.9" r="9.5" fill="url(#g_purple)"/>
<circle cx="539" cy="310.2" r="9.5" fill="url(#g_purple)"/>
<line x1="299" y1="37" x2="347.5" y2="37" stroke="#f0048c" stroke-width="4.4"/>
<circle cx="323.1" cy="37" r="9.5" fill="url(#g_pink)"/>
<text x="351.5" y="45" font-size="20.3" font-family="Liberation Serif" font-weight="bold">WO<tspan font-size="15" dy="5">3</tspan><tspan dy="-5">@GQDs//AC</tspan></text>
<line x1="299" y1="73.2" x2="347.5" y2="73.2" stroke="#00dd00" stroke-width="4.4"/>
<circle cx="323.1" cy="73.2" r="9.5" fill="url(#g_green)"/>
<text x="351.5" y="81.2" font-size="20.3" font-family="Liberation Serif" font-weight="bold">Ti<tspan font-size="15" dy="5">3</tspan><tspan dy="-5">C</tspan><tspan font-size="15" dy="5">2</tspan><tspan dy="-5">@GQDs//AC</tspan></text>
<line x1="299" y1="108.2" x2="347.5" y2="108.2" stroke="#9a00cc" stroke-width="4.4"/>
<circle cx="323.1" cy="108.2" r="9.5" fill="url(#g_purple)"/>
<text x="351.5" y="116.2" font-size="20.3" font-family="Liberation Serif" font-weight="bold">WO<tspan font-size="15" dy="5">3</tspan><tspan dy="-5">/Ti</tspan><tspan font-size="15" dy="5">3</tspan><tspan dy="-5">C</tspan><tspan font-size="15" dy="5">2</tspan><tspan dy="-5">@GQDs//AC</tspan></text>
<rect x="716.4" y="11.2" width="479.89" height="385.3" fill="none" stroke="#000" stroke-width="4.4"/>
<line x1="716.4" y1="396.5" x2="725.6" y2="396.5" stroke="#000" stroke-width="4.2"/><line x1="716.4" y1="345.69" x2="725.6" y2="345.69" stroke="#000" stroke-width="4.2"/><line x1="716.4" y1="294.87" x2="725.6" y2="294.87" stroke="#000" stroke-width="4.2"/><line x1="716.4" y1="244.06" x2="725.6" y2="244.06" stroke="#000" stroke-width="4.2"/><line x1="716.4" y1="193.24" x2="725.6" y2="193.24" stroke="#000" stroke-width="4.2"/><line x1="716.4" y1="142.43" x2="725.6" y2="142.43" stroke="#000" stroke-width="4.2"/><line x1="716.4" y1="91.61" x2="725.6" y2="91.61" stroke="#000" stroke-width="4.2"/><line x1="716.4" y1="40.8" x2="725.6" y2="40.8" stroke="#000" stroke-width="4.2"/>
<line x1="716.4" y1="371.09" x2="720.4" y2="371.09" stroke="#000" stroke-width="4.2"/><line x1="716.4" y1="320.28" x2="720.4" y2="320.28" stroke="#000" stroke-width="4.2"/><line x1="716.4" y1="269.46" x2="720.4" y2="269.46" stroke="#000" stroke-width="4.2"/><line x1="716.4" y1="218.65" x2="720.4" y2="218.65" stroke="#000" stroke-width="4.2"/><line x1="716.4" y1="167.83" x2="720.4" y2="167.83" stroke="#000" stroke-width="4.2"/><line x1="716.4" y1="117.02" x2="720.4" y2="117.02" stroke="#000" stroke-width="4.2"/><line x1="716.4" y1="66.2" x2="720.4" y2="66.2" stroke="#000" stroke-width="4.2"/><line x1="716.4" y1="15.39" x2="720.4" y2="15.39" stroke="#000" stroke-width="4.2"/>
<line x1="750" y1="396.5" x2="750" y2="387.3" stroke="#000" stroke-width="4.2"/><line x1="818.66" y1="396.5" x2="818.66" y2="387.3" stroke="#000" stroke-width="4.2"/><line x1="887.32" y1="396.5" x2="887.32" y2="387.3" stroke="#000" stroke-width="4.2"/><line x1="955.98" y1="396.5" x2="955.98" y2="387.3" stroke="#000" stroke-width="4.2"/><line x1="1024.64" y1="396.5" x2="1024.64" y2="387.3" stroke="#000" stroke-width="4.2"/><line x1="1093.3" y1="396.5" x2="1093.3" y2="387.3" stroke="#000" stroke-width="4.2"/><line x1="1161.96" y1="396.5" x2="1161.96" y2="387.3" stroke="#000" stroke-width="4.2"/>
<line x1="784.33" y1="396.5" x2="784.33" y2="392.5" stroke="#000" stroke-width="4.2"/><line x1="852.99" y1="396.5" x2="852.99" y2="392.5" stroke="#000" stroke-width="4.2"/><line x1="921.65" y1="396.5" x2="921.65" y2="392.5" stroke="#000" stroke-width="4.2"/><line x1="990.31" y1="396.5" x2="990.31" y2="392.5" stroke="#000" stroke-width="4.2"/><line x1="1058.97" y1="396.5" x2="1058.97" y2="392.5" stroke="#000" stroke-width="4.2"/><line x1="1127.63" y1="396.5" x2="1127.63" y2="392.5" stroke="#000" stroke-width="4.2"/>
<g font-family="Liberation Serif" font-weight="bold" fill="#000">
<text x="707" y="406" font-size="26.5" text-anchor="end" >50</text>
<text x="707" y="355.19" font-size="26.5" text-anchor="end" >100</text>
<text x="707" y="304.37" font-size="26.5" text-anchor="end" >150</text>
<text x="707" y="253.56" font-size="26.5" text-anchor="end" >200</text>
<text x="707" y="202.74" font-size="26.5" text-anchor="end" >250</text>
<text x="707" y="151.93" font-size="26.5" text-anchor="end" >300</text>
<text x="707" y="101.11" font-size="26.5" text-anchor="end" >350</text>
<text x="707" y="50.3" font-size="26.5" text-anchor="end" >400</text>
<text x="750" y="426.5" font-size="26.5" text-anchor="middle" >2.0</text>
<text x="818.66" y="426.5" font-size="26.5" text-anchor="middle" >2.2</text>
<text x="887.32" y="426.5" font-size="26.5" text-anchor="middle" >2.4</text>
<text x="955.98" y="426.5" font-size="26.5" text-anchor="middle" >2.6</text>
<text x="1024.64" y="426.5" font-size="26.5" text-anchor="middle" >2.8</text>
<text x="1093.3" y="426.5" font-size="26.5" text-anchor="middle" >3.0</text>
<text x="1161.96" y="426.5" font-size="26.5" text-anchor="middle" >3.2</text>
<text x="956" y="468.7" font-size="26" text-anchor="middle" >Current Density (A/g)</text>
<text transform="translate(643,203) rotate(-90)" font-size="26" text-anchor="middle">Specific Capacity (C/g)</text>
<text x="619" y="20" font-size="25" text-anchor="start" >(b)</text>
</g>
<path d="M750,185.3 L752.05,187.05 L754.09,188.79 L756.1,190.51 L758.1,192.21 L760.07,193.89 L762.02,195.56 L763.96,197.21 L765.87,198.84 L767.77,200.45 L769.64,202.05 L771.5,203.63 L773.34,205.19 L775.16,206.74 L776.96,208.27 L778.74,209.79 L780.51,211.29 L782.25,212.77 L783.98,214.23 L785.7,215.68 L787.39,217.12 L789.07,218.54 L790.73,219.94 L792.37,221.33 L794,222.7 L795.61,224.05 L797.2,225.4 L798.78,226.72 L800.34,228.03 L801.88,229.33 L803.41,230.61 L804.93,231.88 L806.42,233.13 L807.91,234.37 L809.38,235.59 L810.83,236.8 L812.27,237.99 L813.69,239.18 L815.1,240.34 L816.5,241.49 L817.88,242.63 L819.25,243.76 L820.61,244.87 L821.95,245.97 L823.27,247.05 L824.59,248.13 L825.89,249.18 L827.18,250.23 L828.46,251.26 L829.72,252.28 L830.97,253.29 L832.21,254.28 L833.44,255.27 L834.66,256.24 L835.86,257.19 L837.06,258.14 L838.24,259.07 L839.41,259.99 L840.57,260.9 L841.72,261.8 L842.86,262.68 L843.99,263.56 L845.11,264.42 L846.22,265.27 L847.32,266.11 L848.41,266.94 L849.49,267.76 L850.56,268.57 L851.62,269.36 L852.67,270.15 L853.72,270.92 L854.75,271.69 L855.78,272.44 L856.8,273.18 L857.81,273.92 L858.81,274.64 L859.8,275.35 L860.79,276.06 L861.77,276.75 L862.74,277.43 L863.71,278.11 L864.67,278.77 L865.62,279.43 L866.57,280.07 L867.51,280.71 L868.44,281.34 L869.37,281.96 L870.29,282.57 L871.2,283.17 L872.11,283.76 L873.02,284.35 L873.92,284.92 L874.81,285.49 L875.7,286.05 L876.59,286.6 L877.47,287.14 L878.35,287.68 L879.22,288.21 L880.09,288.73 L880.95,289.24 L881.81,289.74 L882.67,290.24 L883.53,290.73 L884.38,291.21 L885.22,291.69 L886.07,292.16 L886.91,292.62 L887.75,293.07 L888.58,293.52 L889.41,293.96 L890.24,294.39 L891.07,294.82 L891.89,295.24 L892.71,295.65 L893.53,296.06 L894.34,296.46 L895.15,296.86 L895.96,297.25 L896.76,297.63 L897.56,298 L898.36,298.37 L899.16,298.74 L899.95,299.1 L900.74,299.45 L901.53,299.8 L902.32,300.14 L903.1,300.47 L903.88,300.8 L904.66,301.12 L905.43,301.44 L906.21,301.76 L906.98,302.06 L907.75,302.37 L908.51,302.66 L909.28,302.96 L910.04,303.24 L910.8,303.52 L911.55,303.8 L912.31,304.07 L913.06,304.34 L913.81,304.6 L914.56,304.86 L915.31,305.12 L916.05,305.37 L916.79,305.61 L917.53,305.85 L918.27,306.09 L919.01,306.32 L919.74,306.55 L920.48,306.77 L921.21,306.99 L921.94,307.21 L922.67,307.42 L923.39,307.63 L924.12,307.83 L924.84,308.03 L925.56,308.23 L926.28,308.43 L927,308.62 L927.72,308.8 L928.44,308.99 L929.15,309.17 L929.86,309.34 L930.58,309.52 L931.29,309.69 L932,309.86 L932.7,310.02 L933.41,310.19 L934.12,310.35 L934.82,310.5 L935.53,310.66 L936.23,310.81 L936.93,310.96 L937.63,311.11 L938.33,311.25 L939.03,311.39 L939.73,311.53 L940.43,311.67 L941.12,311.81 L941.82,311.94 L942.51,312.07 L943.21,312.2 L943.9,312.33 L944.6,312.46 L945.29,312.59 L945.98,312.71 L946.67,312.83 L947.36,312.95 L948.06,313.07 L948.75,313.19 L949.44,313.31 L950.13,313.42 L950.82,313.54 L951.5,313.65 L952.19,313.76 L952.88,313.87 L953.57,313.98 L954.26,314.09 L954.95,314.2 L955.64,314.31 L956.32,314.42 L957.01,314.53 L957.7,314.64 L958.39,314.74 L959.08,314.85 L959.77,314.96 L960.46,315.06 L961.14,315.17 L961.83,315.27 L962.52,315.38 L963.21,315.48 L963.9,315.58 L964.6,315.69 L965.29,315.79 L965.98,315.89 L966.67,316 L967.36,316.1 L968.06,316.2 L968.75,316.31 L969.45,316.41 L970.14,316.51 L970.84,316.61 L971.53,316.71 L972.23,316.82 L972.93,316.92 L973.63,317.02 L974.33,317.12 L975.03,317.23 L975.73,317.33 L976.43,317.43 L977.14,317.53 L977.84,317.63 L978.55,317.74 L979.26,317.84 L979.96,317.94 L980.67,318.05 L981.38,318.15 L982.1,318.25 L982.81,318.36 L983.52,318.46 L984.24,318.57 L984.96,318.67 L985.68,318.78 L986.4,318.88 L987.12,318.99 L987.84,319.1 L988.57,319.2 L989.29,319.31 L990.02,319.42 L990.75,319.53 L991.48,319.63 L992.22,319.74 L992.95,319.85 L993.69,319.96 L994.43,320.08 L995.17,320.19 L995.91,320.3 L996.65,320.41 L997.4,320.53 L998.15,320.64 L998.9,320.76 L999.65,320.87 L1000.41,320.99 L1001.16,321.11 L1001.92,321.22 L1002.68,321.34 L1003.45,321.46 L1004.21,321.58 L1004.98,321.71 L1005.75,321.83 L1006.53,321.95 L1007.3,322.08 L1008.08,322.2 L1008.86,322.33 L1009.64,322.45 L1010.43,322.58 L1011.22,322.71 L1012.01,322.84 L1012.8,322.97 L1013.6,323.11 L1014.4,323.24 L1015.2,323.38 L1016,323.51 L1016.81,323.65 L1017.62,323.79 L1018.43,323.93 L1019.25,324.07 L1020.07,324.21 L1020.89,324.36 L1021.72,324.5 L1022.55,324.65 L1023.38,324.79 L1024.21,324.94 L1025.05,325.09 L1025.89,325.25 L1026.74,325.4 L1027.58,325.55 L1028.43,325.71 L1029.29,325.87 L1030.15,326.03 L1031.01,326.19 L1031.87,326.35 L1032.74,326.51 L1033.61,326.68 L1034.49,326.85 L1035.37,327.02 L1036.26,327.19 L1037.15,327.36 L1038.04,327.53 L1038.94,327.71 L1039.85,327.89 L1040.76,328.07 L1041.67,328.25 L1042.59,328.44 L1043.52,328.63 L1044.45,328.82 L1045.39,329.01 L1046.34,329.2 L1047.29,329.4 L1048.25,329.6 L1049.22,329.8 L1050.19,330 L1051.17,330.21 L1052.16,330.42 L1053.15,330.63 L1054.15,330.84 L1055.16,331.06 L1056.18,331.28 L1057.21,331.5 L1058.24,331.73 L1059.29,331.96 L1060.34,332.19 L1061.4,332.42 L1062.47,332.66 L1063.55,332.9 L1064.64,333.15 L1065.74,333.39 L1066.85,333.64 L1067.97,333.9 L1069.1,334.15 L1070.24,334.42 L1071.39,334.68 L1072.55,334.95 L1073.72,335.22 L1074.9,335.49 L1076.1,335.77 L1077.3,336.05 L1078.52,336.34 L1079.75,336.63 L1080.99,336.92 L1082.24,337.22 L1083.5,337.52 L1084.78,337.82 L1086.07,338.13 L1087.37,338.45 L1088.69,338.76 L1090.01,339.09 L1091.35,339.41 L1092.71,339.74 L1094.08,340.08 L1095.46,340.41 L1096.86,340.76 L1098.27,341.1 L1099.69,341.46 L1101.13,341.81 L1102.58,342.17 L1104.05,342.54 L1105.54,342.91 L1107.03,343.28 L1108.55,343.66 L1110.08,344.05 L1111.62,344.44 L1113.18,344.83 L1114.76,345.23 L1116.35,345.63 L1117.96,346.04 L1119.59,346.46 L1121.23,346.88 L1122.89,347.3 L1124.57,347.73 L1126.26,348.17 L1127.98,348.61 L1129.71,349.05 L1131.45,349.51 L1133.22,349.96 L1135,350.42 L1136.8,350.89 L1138.62,351.37 L1140.46,351.84 L1142.32,352.33 L1144.19,352.82 L1146.09,353.32 L1148,353.82 L1149.94,354.33 L1151.89,354.84 L1153.86,355.36 L1155.86,355.89 L1157.87,356.42 L1159.91,356.96 L1161.96,357.5" fill="none" stroke="#f0048c" stroke-width="4.4"/>
<path d="M750,119.7 L752.05,121.88 L754.09,124.03 L756.1,126.15 L758.1,128.25 L760.07,130.33 L762.02,132.38 L763.96,134.41 L765.87,136.41 L767.77,138.39 L769.64,140.34 L771.5,142.27 L773.34,144.18 L775.16,146.06 L776.96,147.92 L778.74,149.76 L780.51,151.57 L782.25,153.36 L783.98,155.13 L785.7,156.88 L787.39,158.6 L789.07,160.3 L790.73,161.98 L792.37,163.64 L794,165.28 L795.61,166.9 L797.2,168.49 L798.78,170.07 L800.34,171.62 L801.88,173.16 L803.41,174.67 L804.93,176.16 L806.42,177.64 L807.91,179.09 L809.38,180.53 L810.83,181.94 L812.27,183.34 L813.69,184.72 L815.1,186.08 L816.5,187.42 L817.88,188.74 L819.25,190.04 L820.61,191.33 L821.95,192.6 L823.27,193.85 L824.59,195.08 L825.89,196.3 L827.18,197.5 L828.46,198.68 L829.72,199.85 L830.97,201 L832.21,202.13 L833.44,203.25 L834.66,204.35 L835.86,205.44 L837.06,206.51 L838.24,207.57 L839.41,208.61 L840.57,209.63 L841.72,210.65 L842.86,211.64 L843.99,212.63 L845.11,213.59 L846.22,214.55 L847.32,215.49 L848.41,216.42 L849.49,217.33 L850.56,218.23 L851.62,219.12 L852.67,220 L853.72,220.86 L854.75,221.71 L855.78,222.55 L856.8,223.37 L857.81,224.19 L858.81,224.99 L859.8,225.78 L860.79,226.56 L861.77,227.33 L862.74,228.09 L863.71,228.84 L864.67,229.58 L865.62,230.3 L866.57,231.02 L867.51,231.73 L868.44,232.42 L869.37,233.11 L870.29,233.79 L871.2,234.46 L872.11,235.12 L873.02,235.77 L873.92,236.42 L874.81,237.05 L875.7,237.68 L876.59,238.3 L877.47,238.91 L878.35,239.51 L879.22,240.11 L880.09,240.69 L880.95,241.28 L881.81,241.85 L882.67,242.42 L883.53,242.98 L884.38,243.54 L885.22,244.08 L886.07,244.63 L886.91,245.16 L887.75,245.69 L888.58,246.21 L889.41,246.73 L890.24,247.24 L891.07,247.74 L891.89,248.24 L892.71,248.73 L893.53,249.22 L894.34,249.7 L895.15,250.17 L895.96,250.64 L896.76,251.1 L897.56,251.56 L898.36,252.01 L899.16,252.45 L899.95,252.89 L900.74,253.32 L901.53,253.75 L902.32,254.17 L903.1,254.59 L903.88,255 L904.66,255.4 L905.43,255.8 L906.21,256.2 L906.98,256.59 L907.75,256.97 L908.51,257.35 L909.28,257.72 L910.04,258.09 L910.8,258.45 L911.55,258.81 L912.31,259.16 L913.06,259.51 L913.81,259.85 L914.56,260.19 L915.31,260.53 L916.05,260.85 L916.79,261.18 L917.53,261.5 L918.27,261.81 L919.01,262.12 L919.74,262.43 L920.48,262.73 L921.21,263.03 L921.94,263.32 L922.67,263.61 L923.39,263.89 L924.12,264.17 L924.84,264.44 L925.56,264.72 L926.28,264.98 L927,265.24 L927.72,265.5 L928.44,265.76 L929.15,266.01 L929.86,266.25 L930.58,266.5 L931.29,266.74 L932,266.97 L932.7,267.2 L933.41,267.43 L934.12,267.66 L934.82,267.88 L935.53,268.09 L936.23,268.31 L936.93,268.52 L937.63,268.72 L938.33,268.93 L939.03,269.13 L939.73,269.32 L940.43,269.52 L941.12,269.71 L941.82,269.89 L942.51,270.08 L943.21,270.26 L943.9,270.44 L944.6,270.61 L945.29,270.79 L945.98,270.95 L946.67,271.12 L947.36,271.29 L948.06,271.45 L948.75,271.6 L949.44,271.76 L950.13,271.91 L950.82,272.06 L951.5,272.21 L952.19,272.36 L952.88,272.5 L953.57,272.64 L954.26,272.78 L954.95,272.92 L955.64,273.05 L956.32,273.18 L957.01,273.31 L957.7,273.44 L958.39,273.57 L959.08,273.69 L959.77,273.81 L960.46,273.93 L961.14,274.05 L961.83,274.16 L962.52,274.28 L963.21,274.39 L963.9,274.5 L964.6,274.61 L965.29,274.71 L965.98,274.82 L966.67,274.92 L967.36,275.02 L968.06,275.12 L968.75,275.22 L969.45,275.32 L970.14,275.41 L970.84,275.51 L971.53,275.6 L972.23,275.69 L972.93,275.78 L973.63,275.87 L974.33,275.95 L975.03,276.04 L975.73,276.12 L976.43,276.2 L977.14,276.29 L977.84,276.37 L978.55,276.45 L979.26,276.52 L979.96,276.6 L980.67,276.68 L981.38,276.75 L982.1,276.83 L982.81,276.9 L983.52,276.97 L984.24,277.04 L984.96,277.11 L985.68,277.18 L986.4,277.25 L987.12,277.32 L987.84,277.39 L988.57,277.45 L989.29,277.52 L990.02,277.58 L990.75,277.65 L991.48,277.71 L992.22,277.78 L992.95,277.84 L993.69,277.9 L994.43,277.97 L995.17,278.03 L995.91,278.09 L996.65,278.15 L997.4,278.21 L998.15,278.27 L998.9,278.33 L999.65,278.39 L1000.41,278.45 L1001.16,278.51 L1001.92,278.57 L1002.68,278.63 L1003.45,278.69 L1004.21,278.75 L1004.98,278.81 L1005.75,278.87 L1006.53,278.93 L1007.3,278.99 L1008.08,279.05 L1008.86,279.11 L1009.64,279.17 L1010.43,279.23 L1011.22,279.3 L1012.01,279.36 L1012.8,279.42 L1013.6,279.48 L1014.4,279.54 L1015.2,279.61 L1016,279.67 L1016.81,279.73 L1017.62,279.8 L1018.43,279.86 L1019.25,279.93 L1020.07,280 L1020.89,280.06 L1021.72,280.13 L1022.55,280.2 L1023.38,280.27 L1024.21,280.34 L1025.05,280.41 L1025.89,280.48 L1026.74,280.56 L1027.58,280.63 L1028.43,280.7 L1029.29,280.78 L1030.15,280.86 L1031.01,280.93 L1031.87,281.01 L1032.74,281.09 L1033.61,281.17 L1034.49,281.26 L1035.37,281.34 L1036.26,281.42 L1037.15,281.51 L1038.04,281.59 L1038.94,281.68 L1039.85,281.77 L1040.76,281.86 L1041.67,281.95 L1042.59,282.04 L1043.52,282.14 L1044.45,282.23 L1045.39,282.33 L1046.34,282.43 L1047.29,282.52 L1048.25,282.62 L1049.22,282.72 L1050.19,282.83 L1051.17,282.93 L1052.16,283.03 L1053.15,283.14 L1054.15,283.25 L1055.16,283.36 L1056.18,283.47 L1057.21,283.58 L1058.24,283.69 L1059.29,283.8 L1060.34,283.92 L1061.4,284.03 L1062.47,284.15 L1063.55,284.27 L1064.64,284.39 L1065.74,284.51 L1066.85,284.64 L1067.97,284.76 L1069.1,284.89 L1070.24,285.01 L1071.39,285.14 L1072.55,285.27 L1073.72,285.4 L1074.9,285.54 L1076.1,285.67 L1077.3,285.81 L1078.52,285.94 L1079.75,286.08 L1080.99,286.22 L1082.24,286.36 L1083.5,286.51 L1084.78,286.65 L1086.07,286.8 L1087.37,286.95 L1088.69,287.1 L1090.01,287.25 L1091.35,287.4 L1092.71,287.55 L1094.08,287.71 L1095.46,287.87 L1096.86,288.02 L1098.27,288.18 L1099.69,288.35 L1101.13,288.51 L1102.58,288.67 L1104.05,288.84 L1105.54,289.01 L1107.03,289.18 L1108.55,289.35 L1110.08,289.52 L1111.62,289.7 L1113.18,289.87 L1114.76,290.05 L1116.35,290.23 L1117.96,290.41 L1119.59,290.6 L1121.23,290.78 L1122.89,290.97 L1124.57,291.16 L1126.26,291.35 L1127.98,291.54 L1129.71,291.73 L1131.45,291.93 L1133.22,292.13 L1135,292.32 L1136.8,292.53 L1138.62,292.73 L1140.46,292.93 L1142.32,293.14 L1144.19,293.35 L1146.09,293.56 L1148,293.77 L1149.94,293.98 L1151.89,294.2 L1153.86,294.41 L1155.86,294.63 L1157.87,294.85 L1159.91,295.08 L1161.96,295.3" fill="none" stroke="#00dd00" stroke-width="4.4"/>
<path d="M750,52.8 L752.05,54.94 L754.09,57.05 L756.1,59.13 L758.1,61.19 L760.07,63.22 L762.02,65.22 L763.96,67.19 L765.87,69.14 L767.77,71.06 L769.64,72.96 L771.5,74.82 L773.34,76.67 L775.16,78.49 L776.96,80.28 L778.74,82.05 L780.51,83.79 L782.25,85.51 L783.98,87.21 L785.7,88.88 L787.39,90.53 L789.07,92.16 L790.73,93.76 L792.37,95.34 L794,96.9 L795.61,98.44 L797.2,99.95 L798.78,101.45 L800.34,102.92 L801.88,104.37 L803.41,105.8 L804.93,107.21 L806.42,108.6 L807.91,109.97 L809.38,111.32 L810.83,112.65 L812.27,113.97 L813.69,115.26 L815.1,116.54 L816.5,117.79 L817.88,119.03 L819.25,120.25 L820.61,121.46 L821.95,122.64 L823.27,123.81 L824.59,124.96 L825.89,126.1 L827.18,127.22 L828.46,128.33 L829.72,129.41 L830.97,130.49 L832.21,131.55 L833.44,132.59 L834.66,133.62 L835.86,134.63 L837.06,135.64 L838.24,136.62 L839.41,137.6 L840.57,138.56 L841.72,139.51 L842.86,140.44 L843.99,141.36 L845.11,142.28 L846.22,143.17 L847.32,144.06 L848.41,144.94 L849.49,145.8 L850.56,146.66 L851.62,147.5 L852.67,148.34 L853.72,149.16 L854.75,149.97 L855.78,150.78 L856.8,151.58 L857.81,152.36 L858.81,153.14 L859.8,153.91 L860.79,154.67 L861.77,155.43 L862.74,156.17 L863.71,156.91 L864.67,157.65 L865.62,158.37 L866.57,159.09 L867.51,159.8 L868.44,160.51 L869.37,161.21 L870.29,161.91 L871.2,162.6 L872.11,163.29 L873.02,163.97 L873.92,164.65 L874.81,165.32 L875.7,165.99 L876.59,166.66 L877.47,167.32 L878.35,167.98 L879.22,168.64 L880.09,169.29 L880.95,169.94 L881.81,170.6 L882.67,171.25 L883.53,171.89 L884.38,172.54 L885.22,173.18 L886.07,173.83 L886.91,174.47 L887.75,175.11 L888.58,175.74 L889.41,176.38 L890.24,177.01 L891.07,177.64 L891.89,178.28 L892.71,178.9 L893.53,179.53 L894.34,180.16 L895.15,180.78 L895.96,181.4 L896.76,182.02 L897.56,182.64 L898.36,183.25 L899.16,183.87 L899.95,184.48 L900.74,185.09 L901.53,185.7 L902.32,186.3 L903.1,186.91 L903.88,187.51 L904.66,188.11 L905.43,188.71 L906.21,189.3 L906.98,189.9 L907.75,190.49 L908.51,191.08 L909.28,191.67 L910.04,192.26 L910.8,192.84 L911.55,193.42 L912.31,194 L913.06,194.58 L913.81,195.16 L914.56,195.73 L915.31,196.3 L916.05,196.87 L916.79,197.44 L917.53,198.01 L918.27,198.57 L919.01,199.13 L919.74,199.69 L920.48,200.25 L921.21,200.8 L921.94,201.36 L922.67,201.91 L923.39,202.46 L924.12,203 L924.84,203.55 L925.56,204.09 L926.28,204.63 L927,205.16 L927.72,205.7 L928.44,206.23 L929.15,206.76 L929.86,207.29 L930.58,207.81 L931.29,208.34 L932,208.86 L932.7,209.38 L933.41,209.89 L934.12,210.41 L934.82,210.92 L935.53,211.43 L936.23,211.94 L936.93,212.44 L937.63,212.94 L938.33,213.44 L939.03,213.94 L939.73,214.43 L940.43,214.93 L941.12,215.42 L941.82,215.9 L942.51,216.39 L943.21,216.87 L943.9,217.35 L944.6,217.83 L945.29,218.3 L945.98,218.78 L946.67,219.25 L947.36,219.71 L948.06,220.18 L948.75,220.64 L949.44,221.1 L950.13,221.56 L950.82,222.01 L951.5,222.46 L952.19,222.91 L952.88,223.36 L953.57,223.8 L954.26,224.24 L954.95,224.68 L955.64,225.12 L956.32,225.55 L957.01,225.98 L957.7,226.41 L958.39,226.83 L959.08,227.26 L959.77,227.67 L960.46,228.09 L961.14,228.51 L961.83,228.92 L962.52,229.33 L963.21,229.73 L963.9,230.14 L964.6,230.54 L965.29,230.94 L965.98,231.34 L966.67,231.73 L967.36,232.12 L968.06,232.51 L968.75,232.9 L969.45,233.28 L970.14,233.66 L970.84,234.04 L971.53,234.42 L972.23,234.8 L972.93,235.17 L973.63,235.54 L974.33,235.91 L975.03,236.27 L975.73,236.63 L976.43,236.99 L977.14,237.35 L977.84,237.71 L978.55,238.06 L979.26,238.41 L979.96,238.76 L980.67,239.11 L981.38,239.45 L982.1,239.8 L982.81,240.14 L983.52,240.48 L984.24,240.81 L984.96,241.15 L985.68,241.48 L986.4,241.81 L987.12,242.13 L987.84,242.46 L988.57,242.78 L989.29,243.1 L990.02,243.42 L990.75,243.74 L991.48,244.05 L992.22,244.37 L992.95,244.68 L993.69,244.99 L994.43,245.3 L995.17,245.6 L995.91,245.9 L996.65,246.2 L997.4,246.5 L998.15,246.8 L998.9,247.1 L999.65,247.39 L1000.41,247.68 L1001.16,247.97 L1001.92,248.26 L1002.68,248.55 L1003.45,248.83 L1004.21,249.11 L1004.98,249.39 L1005.75,249.67 L1006.53,249.95 L1007.3,250.22 L1008.08,250.5 L1008.86,250.77 L1009.64,251.04 L1010.43,251.31 L1011.22,251.58 L1012.01,251.84 L1012.8,252.1 L1013.6,252.37 L1014.4,252.63 L1015.2,252.88 L1016,253.14 L1016.81,253.4 L1017.62,253.65 L1018.43,253.9 L1019.25,254.15 L1020.07,254.4 L1020.89,254.65 L1021.72,254.9 L1022.55,255.14 L1023.38,255.38 L1024.21,255.62 L1025.05,255.86 L1025.89,256.1 L1026.74,256.34 L1027.58,256.58 L1028.43,256.81 L1029.29,257.04 L1030.15,257.28 L1031.01,257.51 L1031.87,257.73 L1032.74,257.96 L1033.61,258.19 L1034.49,258.41 L1035.37,258.64 L1036.26,258.86 L1037.15,259.08 L1038.04,259.3 L1038.94,259.52 L1039.85,259.73 L1040.76,259.95 L1041.67,260.16 L1042.59,260.37 L1043.52,260.58 L1044.45,260.79 L1045.39,261 L1046.34,261.21 L1047.29,261.41 L1048.25,261.61 L1049.22,261.82 L1050.19,262.02 L1051.17,262.21 L1052.16,262.41 L1053.15,262.61 L1054.15,262.8 L1055.16,262.99 L1056.18,263.19 L1057.21,263.38 L1058.24,263.56 L1059.29,263.75 L1060.34,263.94 L1061.4,264.12 L1062.47,264.3 L1063.55,264.48 L1064.64,264.66 L1065.74,264.84 L1066.85,265.01 L1067.97,265.19 L1069.1,265.36 L1070.24,265.53 L1071.39,265.7 L1072.55,265.87 L1073.72,266.03 L1074.9,266.2 L1076.1,266.36 L1077.3,266.52 L1078.52,266.68 L1079.75,266.84 L1080.99,267 L1082.24,267.15 L1083.5,267.31 L1084.78,267.46 L1086.07,267.61 L1087.37,267.75 L1088.69,267.9 L1090.01,268.05 L1091.35,268.19 L1092.71,268.33 L1094.08,268.47 L1095.46,268.61 L1096.86,268.74 L1098.27,268.88 L1099.69,269.01 L1101.13,269.14 L1102.58,269.27 L1104.05,269.4 L1105.54,269.53 L1107.03,269.65 L1108.55,269.77 L1110.08,269.89 L1111.62,270.01 L1113.18,270.13 L1114.76,270.24 L1116.35,270.36 L1117.96,270.47 L1119.59,270.58 L1121.23,270.69 L1122.89,270.79 L1124.57,270.9 L1126.26,271 L1127.98,271.1 L1129.71,271.2 L1131.45,271.3 L1133.22,271.39 L1135,271.49 L1136.8,271.58 L1138.62,271.67 L1140.46,271.76 L1142.32,271.84 L1144.19,271.93 L1146.09,272.01 L1148,272.09 L1149.94,272.17 L1151.89,272.25 L1153.86,272.32 L1155.86,272.39 L1157.87,272.46 L1159.91,272.53 L1161.96,272.6" fill="none" stroke="#9a00cc" stroke-width="4.4"/>
<circle cx="750" cy="185.3" r="9.5" fill="url(#g_pink)"/>
<circle cx="818.66" cy="243.9" r="9.5" fill="url(#g_pink)"/>
<circle cx="887.32" cy="301.9" r="9.5" fill="url(#g_pink)"/>
<circle cx="955.98" cy="315.2" r="9.5" fill="url(#g_pink)"/>
<circle cx="1024.64" cy="323.5" r="9.5" fill="url(#g_pink)"/>
<circle cx="1093.3" cy="339.3" r="9.5" fill="url(#g_pink)"/>
<circle cx="1161.96" cy="357.5" r="9.5" fill="url(#g_pink)"/>
<circle cx="750" cy="119.7" r="9.5" fill="url(#g_green)"/>
<circle cx="818.66" cy="192.5" r="9.5" fill="url(#g_green)"/>
<circle cx="887.32" cy="252.8" r="9.5" fill="url(#g_green)"/>
<circle cx="955.98" cy="276.7" r="9.5" fill="url(#g_green)"/>
<circle cx="1024.64" cy="279.1" r="9.5" fill="url(#g_green)"/>
<circle cx="1093.3" cy="287.8" r="9.5" fill="url(#g_green)"/>
<circle cx="1161.96" cy="295.3" r="9.5" fill="url(#g_green)"/>
<circle cx="750" cy="52.8" r="9.5" fill="url(#g_purple)"/>
<circle cx="818.66" cy="124.4" r="9.5" fill="url(#g_purple)"/>
<circle cx="887.32" cy="173.2" r="9.5" fill="url(#g_purple)"/>
<circle cx="955.98" cy="229.8" r="9.5" fill="url(#g_purple)"/>
<circle cx="1024.64" cy="259.6" r="9.5" fill="url(#g_purple)"/>
<circle cx="1093.3" cy="270.4" r="9.5" fill="url(#g_purple)"/>
<circle cx="1161.96" cy="272.6" r="9.5" fill="url(#g_purple)"/>
<line x1="912.6" y1="33.8" x2="961" y2="33.8" stroke="#f0048c" stroke-width="4.4"/>
<circle cx="936.2" cy="33.8" r="9.5" fill="url(#g_pink)"/>
<text x="966" y="40.8" font-size="20.3" font-family="Liberation Serif" font-weight="bold">WO<tspan font-size="15" dy="5">3</tspan><tspan dy="-5">@GQDs//AC</tspan></text>
<line x1="912.6" y1="64.5" x2="961" y2="64.5" stroke="#00dd00" stroke-width="4.4"/>
<circle cx="936.2" cy="64.5" r="9.5" fill="url(#g_green)"/>
<text x="966" y="71.5" font-size="20.3" font-family="Liberation Serif" font-weight="bold">Ti<tspan font-size="15" dy="5">3</tspan><tspan dy="-5">C</tspan><tspan font-size="15" dy="5">2</tspan><tspan dy="-5">@GQDs//AC</tspan></text>
<line x1="912.6" y1="93.5" x2="961" y2="93.5" stroke="#9a00cc" stroke-width="4.4"/>
<circle cx="936.2" cy="93.5" r="9.5" fill="url(#g_purple)"/>
<text x="966" y="100.5" font-size="20.3" font-family="Liberation Serif" font-weight="bold">WO<tspan font-size="15" dy="5">3</tspan><tspan dy="-5">/Ti</tspan><tspan font-size="15" dy="5">3</tspan><tspan dy="-5">C</tspan><tspan font-size="15" dy="5">2</tspan><tspan dy="-5">@GQDs//AC</tspan></text>
<rect x="103" y="483" width="479.4" height="385" fill="none" stroke="#000" stroke-width="4.4"/>
<line x1="103" y1="836" x2="112.2" y2="836" stroke="#000" stroke-width="4.2"/><line x1="103" y1="781.59" x2="112.2" y2="781.59" stroke="#000" stroke-width="4.2"/><line x1="103" y1="727.17" x2="112.2" y2="727.17" stroke="#000" stroke-width="4.2"/><line x1="103" y1="672.76" x2="112.2" y2="672.76" stroke="#000" stroke-width="4.2"/><line x1="103" y1="618.34" x2="112.2" y2="618.34" stroke="#000" stroke-width="4.2"/><line x1="103" y1="563.93" x2="112.2" y2="563.93" stroke="#000" stroke-width="4.2"/><line x1="103" y1="509.52" x2="112.2" y2="509.52" stroke="#000" stroke-width="4.2"/>
<line x1="103" y1="863.21" x2="107" y2="863.21" stroke="#000" stroke-width="4.2"/><line x1="103" y1="808.79" x2="107" y2="808.79" stroke="#000" stroke-width="4.2"/><line x1="103" y1="754.38" x2="107" y2="754.38" stroke="#000" stroke-width="4.2"/><line x1="103" y1="699.97" x2="107" y2="699.97" stroke="#000" stroke-width="4.2"/><line x1="103" y1="645.55" x2="107" y2="645.55" stroke="#000" stroke-width="4.2"/><line x1="103" y1="591.14" x2="107" y2="591.14" stroke="#000" stroke-width="4.2"/><line x1="103" y1="536.72" x2="107" y2="536.72" stroke="#000" stroke-width="4.2"/><line x1="103" y1="482.31" x2="107" y2="482.31" stroke="#000" stroke-width="4.2"/>
<line x1="165.05" y1="868" x2="165.05" y2="858.8" stroke="#000" stroke-width="4.2"/><line x1="227.6" y1="868" x2="227.6" y2="858.8" stroke="#000" stroke-width="4.2"/><line x1="290.15" y1="868" x2="290.15" y2="858.8" stroke="#000" stroke-width="4.2"/><line x1="352.7" y1="868" x2="352.7" y2="858.8" stroke="#000" stroke-width="4.2"/><line x1="415.25" y1="868" x2="415.25" y2="858.8" stroke="#000" stroke-width="4.2"/><line x1="477.8" y1="868" x2="477.8" y2="858.8" stroke="#000" stroke-width="4.2"/><line x1="540.35" y1="868" x2="540.35" y2="858.8" stroke="#000" stroke-width="4.2"/>
<line x1="133.77" y1="868" x2="133.77" y2="864" stroke="#000" stroke-width="4.2"/><line x1="196.32" y1="868" x2="196.32" y2="864" stroke="#000" stroke-width="4.2"/><line x1="258.88" y1="868" x2="258.88" y2="864" stroke="#000" stroke-width="4.2"/><line x1="321.42" y1="868" x2="321.42" y2="864" stroke="#000" stroke-width="4.2"/><line x1="383.98" y1="868" x2="383.98" y2="864" stroke="#000" stroke-width="4.2"/><line x1="446.52" y1="868" x2="446.52" y2="864" stroke="#000" stroke-width="4.2"/><line x1="509.07" y1="868" x2="509.07" y2="864" stroke="#000" stroke-width="4.2"/><line x1="571.62" y1="868" x2="571.62" y2="864" stroke="#000" stroke-width="4.2"/>
<g font-family="Liberation Serif" font-weight="bold" fill="#000">
<text x="93" y="843.6" font-size="26.5" text-anchor="end" >0.6</text>
<text x="93" y="789.19" font-size="26.5" text-anchor="end" >1.2</text>
<text x="93" y="734.77" font-size="26.5" text-anchor="end" >1.8</text>
<text x="93" y="680.36" font-size="26.5" text-anchor="end" >2.4</text>
<text x="93" y="625.94" font-size="26.5" text-anchor="end" >3.0</text>
<text x="93" y="571.53" font-size="26.5" text-anchor="end" >3.6</text>
<text x="93" y="517.12" font-size="26.5" text-anchor="end" >4.2</text>
<text x="102.5" y="897.5" font-size="26.5" text-anchor="middle" >2.1</text>
<text x="165.05" y="897.5" font-size="26.5" text-anchor="middle" >2.4</text>
<text x="227.6" y="897.5" font-size="26.5" text-anchor="middle" >2.7</text>
<text x="290.15" y="897.5" font-size="26.5" text-anchor="middle" >3.0</text>
<text x="352.7" y="897.5" font-size="26.5" text-anchor="middle" >3.3</text>
<text x="415.25" y="897.5" font-size="26.5" text-anchor="middle" >3.6</text>
<text x="477.8" y="897.5" font-size="26.5" text-anchor="middle" >3.9</text>
<text x="540.35" y="897.5" font-size="26.5" text-anchor="middle" >4.2</text>
<text x="342" y="940.5" font-size="26" text-anchor="middle" >Log of Scan Rate (mV/s)</text>
<text transform="translate(30.5,673.5) rotate(-90)" font-size="26" text-anchor="middle">Log of Peak Current (mA)</text>
<text x="5" y="491" font-size="25" text-anchor="start" >(c)</text>
</g>
<circle cx="131.9" cy="682.7" r="9.5" fill="url(#g_cpurple)"/>
<circle cx="263.9" cy="632.8" r="9.5" fill="url(#g_cpurple)"/>
<circle cx="364.9" cy="587.4" r="9.5" fill="url(#g_cpurple)"/>
<circle cx="424.6" cy="565.8" r="9.5" fill="url(#g_cpurple)"/>
<circle cx="471" cy="551.9" r="9.5" fill="url(#g_cpurple)"/>
<circle cx="519.1" cy="536.8" r="9.5" fill="url(#g_cpurple)"/>
<circle cx="131.9" cy="711.2" r="9.5" fill="url(#g_cblue)"/>
<circle cx="263.9" cy="667" r="9.5" fill="url(#g_cblue)"/>
<circle cx="364.9" cy="629.3" r="9.5" fill="url(#g_cblue)"/>
<circle cx="424.6" cy="608.1" r="9.5" fill="url(#g_cblue)"/>
<circle cx="471" cy="594.5" r="9.5" fill="url(#g_cblue)"/>
<circle cx="519.1" cy="570.2" r="9.5" fill="url(#g_cblue)"/>
<circle cx="131.9" cy="746.8" r="9.5" fill="url(#g_cteal)"/>
<circle cx="263.9" cy="699.8" r="9.5" fill="url(#g_cteal)"/>
<circle cx="364.9" cy="659.5" r="9.5" fill="url(#g_cteal)"/>
<circle cx="424.6" cy="642" r="9.5" fill="url(#g_cteal)"/>
<circle cx="471" cy="627" r="9.5" fill="url(#g_cteal)"/>
<circle cx="519.1" cy="599.2" r="9.5" fill="url(#g_cteal)"/>
<circle cx="131.9" cy="785.3" r="9.5" fill="url(#g_clime)"/>
<circle cx="263.9" cy="732.6" r="9.5" fill="url(#g_clime)"/>
<circle cx="364.9" cy="696.7" r="9.5" fill="url(#g_clime)"/>
<circle cx="424.6" cy="671.3" r="9.5" fill="url(#g_clime)"/>
<circle cx="471" cy="654.5" r="9.5" fill="url(#g_clime)"/>
<circle cx="519.1" cy="638.2" r="9.5" fill="url(#g_clime)"/>
<circle cx="131.9" cy="818.9" r="9.5" fill="url(#g_corange)"/>
<circle cx="263.9" cy="777.3" r="9.5" fill="url(#g_corange)"/>
<circle cx="364.9" cy="743.1" r="9.5" fill="url(#g_corange)"/>
<circle cx="424.6" cy="715" r="9.5" fill="url(#g_corange)"/>
<circle cx="471" cy="694.3" r="9.5" fill="url(#g_corange)"/>
<circle cx="519.1" cy="670.1" r="9.5" fill="url(#g_corange)"/>
<circle cx="131.9" cy="844.6" r="9.5" fill="url(#g_cpink)"/>
<circle cx="263.9" cy="818.9" r="9.5" fill="url(#g_cpink)"/>
<circle cx="364.9" cy="787.4" r="9.5" fill="url(#g_cpink)"/>
<circle cx="424.6" cy="763.8" r="9.5" fill="url(#g_cpink)"/>
<circle cx="471" cy="738.7" r="9.5" fill="url(#g_cpink)"/>
<circle cx="519.1" cy="715.9" r="9.5" fill="url(#g_cpink)"/>
<line x1="131.4" y1="681.2" x2="519.1" y2="533.3" stroke="#000" stroke-width="4" stroke-linecap="round"/>
<line x1="131.4" y1="712.6" x2="519.1" y2="574.7" stroke="#000" stroke-width="4" stroke-linecap="round"/>
<line x1="131.4" y1="746.8" x2="519.1" y2="605.7" stroke="#000" stroke-width="4" stroke-linecap="round"/>
<line x1="131.4" y1="784.7" x2="519.1" y2="638.2" stroke="#000" stroke-width="4" stroke-linecap="round"/>
<line x1="131.4" y1="823.8" x2="519.1" y2="676.6" stroke="#000" stroke-width="4" stroke-linecap="round"/>
<line x1="131.4" y1="854.6" x2="519.1" y2="726.9" stroke="#000" stroke-width="4" stroke-linecap="round"/>
<circle cx="134.1" cy="504.8" r="5" fill="url(#g_cpink)"/>
<text x="144" y="508.6" font-size="17.8" font-family="Liberation Serif" font-weight="bold">0.51 V, b~0.71</text>
<circle cx="134.1" cy="526.5" r="5" fill="url(#g_corange)"/>
<text x="144" y="530.3" font-size="17.8" font-family="Liberation Serif" font-weight="bold">0.62 V, b~0.55</text>
<circle cx="134.1" cy="548.2" r="5" fill="url(#g_clime)"/>
<text x="144" y="552" font-size="17.8" font-family="Liberation Serif" font-weight="bold">0.68 V, b~0.8</text>
<circle cx="134.1" cy="569.9" r="5" fill="url(#g_cteal)"/>
<text x="144" y="573.7" font-size="17.8" font-family="Liberation Serif" font-weight="bold">0.73 V, b~0.64</text>
<circle cx="134.1" cy="591.6" r="5" fill="url(#g_cblue)"/>
<text x="144" y="595.4" font-size="17.8" font-family="Liberation Serif" font-weight="bold">0.77 V, b~0.65</text>
<circle cx="134.1" cy="613.3" r="5" fill="url(#g_cpurple)"/>
<text x="144" y="617.1" font-size="17.8" font-family="Liberation Serif" font-weight="bold">0.80 V, b~0.75</text>
<g id="pd"><g stroke="#e0e0e0" stroke-width="1" fill="none">
<line x1="753.24" y1="779.29" x2="733.91" y2="560.31"/>
<line x1="791.05" y1="760.07" x2="776.56" y2="544.73"/>
<line x1="827.09" y1="741.75" x2="817" y2="529.95"/>
<line x1="861.49" y1="724.27" x2="855.39" y2="515.92"/>
<line x1="894.36" y1="707.57" x2="891.89" y2="502.58"/>
<line x1="731.43" y1="767.07" x2="910.17" y2="678.82"/>
<line x1="729.17" y1="744.34" x2="910.09" y2="657.71"/>
<line x1="726.86" y1="721.06" x2="910.01" y2="636.14"/>
<line x1="724.49" y1="697.21" x2="909.93" y2="614.09"/>
<line x1="722.06" y1="672.75" x2="909.84" y2="591.55"/>
<line x1="719.57" y1="647.66" x2="909.75" y2="568.51"/>
<line x1="717.01" y1="621.93" x2="909.66" y2="544.94"/>
<line x1="714.39" y1="595.53" x2="909.57" y2="520.83"/>
<line x1="922.97" y1="706.48" x2="923.53" y2="501.63"/>
<line x1="949.18" y1="720.89" x2="952.6" y2="512.95"/>
<line x1="976.49" y1="735.9" x2="983.01" y2="524.8"/>
<line x1="1004.96" y1="751.55" x2="1014.87" y2="537.21"/>
<line x1="1034.68" y1="767.88" x2="1048.28" y2="550.22"/>
<line x1="1065.71" y1="784.94" x2="1083.35" y2="563.89"/>
<line x1="910.17" y1="678.82" x2="1083.75" y2="771.4"/>
<line x1="910.09" y1="657.71" x2="1085.78" y2="748.49"/>
<line x1="910.01" y1="636.14" x2="1087.87" y2="725.02"/>
<line x1="909.93" y1="614.09" x2="1090" y2="700.96"/>
<line x1="909.84" y1="591.55" x2="1092.2" y2="676.29"/>
<line x1="909.75" y1="568.51" x2="1094.45" y2="650.98"/>
<line x1="909.66" y1="544.94" x2="1096.75" y2="625.01"/>
<line x1="909.57" y1="520.83" x2="1099.12" y2="598.35"/>
<line x1="745.95" y1="798.13" x2="922.97" y2="706.48"/>
<line x1="771.44" y1="816.5" x2="949.18" y2="720.89"/>
<line x1="798.13" y1="835.74" x2="976.49" y2="735.9"/>
<line x1="826.11" y1="855.91" x2="1004.96" y2="751.55"/>
<line x1="855.48" y1="877.07" x2="1034.68" y2="767.88"/>
<line x1="886.35" y1="899.32" x2="1065.71" y2="784.94"/>
<line x1="753.24" y1="779.29" x2="922.59" y2="897.68"/>
<line x1="791.05" y1="760.07" x2="961.36" y2="872.37"/>
<line x1="827.09" y1="741.75" x2="998.05" y2="848.41"/>
<line x1="861.49" y1="724.27" x2="1032.84" y2="825.69"/>
<line x1="894.36" y1="707.57" x2="1065.87" y2="804.13"/>
</g>
<line x1="910.25" y1="699.49" x2="909.48" y2="496.16" stroke="#000" stroke-width="2.8" stroke-linecap="round"/>
<line x1="733.63" y1="789.25" x2="910.25" y2="699.49" stroke="#000" stroke-width="2.8" stroke-linecap="round"/>
<line x1="910.25" y1="699.49" x2="1081.76" y2="793.76" stroke="#000" stroke-width="2.8" stroke-linecap="round"/>
<polygon points="768.24,594.42 768.3,594.84 782.29,786.61 782.31,787.12 782.27,787.64 782.2,788.16 782.07,788.67 781.91,789.19 781.69,789.71 781.44,790.21 781.13,790.72 780.79,791.22 780.4,791.7 779.97,792.18 779.51,792.65 779,793.11 778.46,793.55 777.87,793.97 777.26,794.38 776.61,794.78 775.93,795.15 775.23,795.51 774.49,795.84 773.73,796.15 772.95,796.44 772.14,796.71 771.32,796.95 770.48,797.17 769.63,797.36 768.77,797.53 767.89,797.67 767.01,797.78 766.13,797.86 765.24,797.92 764.36,797.95 763.48,797.95 762.6,797.93 761.74,797.88 760.88,797.8 760.04,797.69 759.21,797.55 758.41,797.39 757.62,797.2 756.85,796.99 756.11,796.75 755.4,796.49 754.71,796.2 754.06,795.89 753.44,795.56 752.85,795.21 752.3,794.84 751.78,794.45 751.31,794.04 750.87,793.62 750.48,793.18 750.13,792.73 749.82,792.26 749.55,791.79 749.33,791.3 749.16,790.81 749.03,790.3 748.94,789.79 731.43,597.6 731.4,597.17 731.42,596.74 731.49,596.3 731.61,595.87 731.79,595.44 732.01,595.01 732.28,594.58 732.59,594.16 732.96,593.74 733.37,593.33 733.82,592.92 734.32,592.53 734.86,592.15 735.43,591.77 736.05,591.41 736.71,591.06 737.4,590.73 738.12,590.41 738.87,590.11 739.66,589.82 740.47,589.55 741.3,589.3 742.16,589.06 743.04,588.84 743.93,588.65 744.84,588.47 745.77,588.32 746.7,588.18 747.64,588.07 748.59,587.98 749.55,587.91 750.5,587.86 751.45,587.83 752.4,587.83 753.34,587.84 754.27,587.88 755.19,587.95 756.09,588.03 756.98,588.13 757.85,588.26 758.7,588.41 759.53,588.58 760.33,588.77 761.1,588.97 761.84,589.2 762.55,589.45 763.23,589.71 763.87,589.99 764.47,590.29 765.04,590.6 765.56,590.93 766.04,591.28 766.48,591.63 766.87,592 767.22,592.38 767.52,592.77 767.78,593.17 767.98,593.58 768.14,593.99" fill="url(#bg0)"/>
<polygon points="768.24,594.42 768.3,594.84 782.29,786.61 782.31,787.12 782.27,787.64 782.2,788.16 782.07,788.67 781.91,789.19 781.69,789.71 781.44,790.21 781.13,790.72 780.79,791.22 780.4,791.7 779.97,792.18 779.51,792.65 779,793.11 778.46,793.55 777.87,793.97 777.26,794.38 776.61,794.78 775.93,795.15 775.23,795.51 774.49,795.84 773.73,796.15 772.95,796.44 772.14,796.71 771.32,796.95 770.48,797.17 769.63,797.36 768.77,797.53 767.89,797.67 767.01,797.78 766.13,797.86 765.24,797.92 764.36,797.95 763.48,797.95 762.6,797.93 761.74,797.88 760.88,797.8 760.04,797.69 759.21,797.55 758.41,797.39 757.62,797.2 756.85,796.99 756.11,796.75 755.4,796.49 754.71,796.2 754.06,795.89 753.44,795.56 752.85,795.21 752.3,794.84 751.78,794.45 751.31,794.04 750.87,793.62 750.48,793.18 750.13,792.73 749.82,792.26 749.55,791.79 749.33,791.3 749.16,790.81 749.03,790.3 748.94,789.79 731.43,597.6 731.4,597.17 731.42,596.74 731.49,596.3 731.61,595.87 731.79,595.44 732.01,595.01 732.28,594.58 732.59,594.16 732.96,593.74 733.37,593.33 733.82,592.92 734.32,592.53 734.86,592.15 735.43,591.77 736.05,591.41 736.71,591.06 737.4,590.73 738.12,590.41 738.87,590.11 739.66,589.82 740.47,589.55 741.3,589.3 742.16,589.06 743.04,588.84 743.93,588.65 744.84,588.47 745.77,588.32 746.7,588.18 747.64,588.07 748.59,587.98 749.55,587.91 750.5,587.86 751.45,587.83 752.4,587.83 753.34,587.84 754.27,587.88 755.19,587.95 756.09,588.03 756.98,588.13 757.85,588.26 758.7,588.41 759.53,588.58 760.33,588.77 761.1,588.97 761.84,589.2 762.55,589.45 763.23,589.71 763.87,589.99 764.47,590.29 765.04,590.6 765.56,590.93 766.04,591.28 766.48,591.63 766.87,592 767.22,592.38 767.52,592.77 767.78,593.17 767.98,593.58 768.14,593.99" fill="url(#bs0)"/>
<polyline points="748.94,789.79 749.03,790.3 749.16,790.81 749.33,791.3 749.55,791.79 749.82,792.26 750.13,792.73 750.48,793.18 750.87,793.62 751.31,794.04 751.78,794.45 752.3,794.84 752.85,795.21 753.44,795.56 754.06,795.89 754.71,796.2 755.4,796.49 756.11,796.75 756.85,796.99 757.62,797.2 758.41,797.39 759.21,797.55 760.04,797.69 760.88,797.8 761.74,797.88 762.6,797.93 763.48,797.95 764.36,797.95 765.24,797.92 766.13,797.86 767.01,797.78 767.89,797.67 768.77,797.53 769.63,797.36 770.48,797.17 771.32,796.95 772.14,796.71 772.95,796.44 773.73,796.15 774.49,795.84 775.23,795.51 775.93,795.15 776.61,794.78 777.26,794.38 777.87,793.97 778.46,793.55 779,793.11 779.51,792.65 779.97,792.18 780.4,791.7 780.79,791.22 781.13,790.72 781.44,790.21 781.69,789.71 781.91,789.19 782.07,788.67 782.2,788.16 782.27,787.64 782.31,787.12 782.29,786.61" fill="none" stroke="#111" stroke-width="1.6"/>
<polygon points="761.11,602.02 761.87,601.7 762.59,601.37 763.28,601.03 763.93,600.67 764.54,600.3 765.11,599.91 765.63,599.52 766.11,599.12 766.55,598.71 766.94,598.29 767.28,597.86 767.58,597.44 767.82,597.01 768.02,596.57 768.16,596.14 768.26,595.7 768.3,595.27 768.3,594.84 768.24,594.42 768.14,593.99 767.98,593.58 767.78,593.17 767.52,592.77 767.22,592.38 766.87,592 766.48,591.63 766.04,591.28 765.56,590.93 765.04,590.6 764.47,590.29 763.87,589.99 763.23,589.71 762.55,589.45 761.84,589.2 761.1,588.97 760.33,588.77 759.53,588.58 758.7,588.41 757.85,588.26 756.98,588.13 756.09,588.03 755.19,587.95 754.27,587.88 753.34,587.84 752.4,587.83 751.45,587.83 750.5,587.86 749.55,587.91 748.59,587.98 747.64,588.07 746.7,588.18 745.77,588.32 744.84,588.47 743.93,588.65 743.04,588.84 742.16,589.06 741.3,589.3 740.47,589.55 739.66,589.82 738.87,590.11 738.12,590.41 737.4,590.73 736.71,591.06 736.05,591.41 735.43,591.77 734.86,592.15 734.32,592.53 733.82,592.92 733.37,593.33 732.96,593.74 732.59,594.16 732.28,594.58 732.01,595.01 731.79,595.44 731.61,595.87 731.49,596.3 731.42,596.74 731.4,597.17 731.43,597.6 731.51,598.03 731.64,598.45 731.82,598.86 732.06,599.27 732.34,599.67 732.67,600.06 733.05,600.44 733.47,600.8 733.94,601.16 734.46,601.5 735.01,601.82 735.62,602.13 736.26,602.43 736.93,602.7 737.65,602.96 738.4,603.2 739.18,603.42 739.99,603.62 740.83,603.79 741.7,603.95 742.59,604.08 743.5,604.19 744.43,604.28 745.37,604.35 746.33,604.39 747.29,604.41 748.27,604.4 749.24,604.38 750.22,604.33 751.2,604.25 752.17,604.15 753.14,604.03 754.1,603.89 755.05,603.73 755.98,603.54 756.89,603.34 757.79,603.11 758.66,602.87 759.5,602.6 760.32,602.32" fill="#c4186c" stroke="#000" stroke-width="1.8"/>
<polygon points="808.25,804.46 808.28,804.99 808.26,805.53 808.2,806.08 808.09,806.62 807.94,807.16 807.74,807.69 807.49,808.23 807.2,808.75 806.86,809.27 806.48,809.79 806.06,810.29 805.6,810.78 805.09,811.25 804.55,811.71 803.97,812.16 803.36,812.59 802.71,813 802.02,813.39 801.31,813.76 800.57,814.11 799.8,814.44 799.01,814.74 798.2,815.02 797.36,815.27 796.51,815.5 795.65,815.7 794.77,815.87 793.88,816.02 792.98,816.14 792.08,816.23 791.18,816.29 790.27,816.32 789.37,816.32 788.47,816.29 787.59,816.24 786.71,816.15 785.84,816.04 784.99,815.9 784.16,815.73 783.35,815.53 782.56,815.31 781.79,815.06 781.05,814.78 780.34,814.49 779.66,814.16 779.02,813.82 778.4,813.45 777.83,813.06 777.29,812.65 776.79,812.23 776.33,811.78 775.91,811.32 775.54,810.85 775.21,810.36 774.92,809.87 774.68,809.36 774.48,808.84 774.33,808.31 774.23,807.78 774.17,807.24 760.6,633.74 760.6,633.27 760.65,632.8 760.75,632.34 760.91,631.87 761.11,631.41 761.36,630.95 761.66,630.49 762.01,630.05 762.41,629.6 762.85,629.17 763.33,628.75 763.86,628.34 764.43,627.93 765.04,627.55 765.69,627.17 766.37,626.81 767.09,626.47 767.84,626.14 768.62,625.84 769.43,625.54 770.26,625.27 771.12,625.02 772,624.79 772.9,624.58 773.81,624.39 774.74,624.22 775.69,624.08 776.64,623.96 777.6,623.86 778.56,623.78 779.52,623.73 780.49,623.7 781.45,623.7 782.4,623.72 783.35,623.76 784.29,623.83 785.21,623.92 786.12,624.03 787,624.17 787.87,624.33 788.72,624.51 789.54,624.72 790.33,624.94 791.1,625.18 791.83,625.45 792.53,625.73 793.19,626.04 793.82,626.36 794.41,626.7 794.96,627.05 795.46,627.42 795.93,627.8 796.34,628.2 796.72,628.61 797.04,629.03 797.32,629.46 797.55,629.9 797.73,630.34 797.85,630.8 797.93,631.25" fill="url(#bg1)"/>
<polygon points="808.25,804.46 808.28,804.99 808.26,805.53 808.2,806.08 808.09,806.62 807.94,807.16 807.74,807.69 807.49,808.23 807.2,808.75 806.86,809.27 806.48,809.79 806.06,810.29 805.6,810.78 805.09,811.25 804.55,811.71 803.97,812.16 803.36,812.59 802.71,813 802.02,813.39 801.31,813.76 800.57,814.11 799.8,814.44 799.01,814.74 798.2,815.02 797.36,815.27 796.51,815.5 795.65,815.7 794.77,815.87 793.88,816.02 792.98,816.14 792.08,816.23 791.18,816.29 790.27,816.32 789.37,816.32 788.47,816.29 787.59,816.24 786.71,816.15 785.84,816.04 784.99,815.9 784.16,815.73 783.35,815.53 782.56,815.31 781.79,815.06 781.05,814.78 780.34,814.49 779.66,814.16 779.02,813.82 778.4,813.45 777.83,813.06 777.29,812.65 776.79,812.23 776.33,811.78 775.91,811.32 775.54,810.85 775.21,810.36 774.92,809.87 774.68,809.36 774.48,808.84 774.33,808.31 774.23,807.78 774.17,807.24 760.6,633.74 760.6,633.27 760.65,632.8 760.75,632.34 760.91,631.87 761.11,631.41 761.36,630.95 761.66,630.49 762.01,630.05 762.41,629.6 762.85,629.17 763.33,628.75 763.86,628.34 764.43,627.93 765.04,627.55 765.69,627.17 766.37,626.81 767.09,626.47 767.84,626.14 768.62,625.84 769.43,625.54 770.26,625.27 771.12,625.02 772,624.79 772.9,624.58 773.81,624.39 774.74,624.22 775.69,624.08 776.64,623.96 777.6,623.86 778.56,623.78 779.52,623.73 780.49,623.7 781.45,623.7 782.4,623.72 783.35,623.76 784.29,623.83 785.21,623.92 786.12,624.03 787,624.17 787.87,624.33 788.72,624.51 789.54,624.72 790.33,624.94 791.1,625.18 791.83,625.45 792.53,625.73 793.19,626.04 793.82,626.36 794.41,626.7 794.96,627.05 795.46,627.42 795.93,627.8 796.34,628.2 796.72,628.61 797.04,629.03 797.32,629.46 797.55,629.9 797.73,630.34 797.85,630.8 797.93,631.25" fill="url(#bs1)"/>
<polyline points="774.17,807.24 774.23,807.78 774.33,808.31 774.48,808.84 774.68,809.36 774.92,809.87 775.21,810.36 775.54,810.85 775.91,811.32 776.33,811.78 776.79,812.23 777.29,812.65 777.83,813.06 778.4,813.45 779.02,813.82 779.66,814.16 780.34,814.49 781.05,814.78 781.79,815.06 782.56,815.31 783.35,815.53 784.16,815.73 784.99,815.9 785.84,816.04 786.71,816.15 787.59,816.24 788.47,816.29 789.37,816.32 790.27,816.32 791.18,816.29 792.08,816.23 792.98,816.14 793.88,816.02 794.77,815.87 795.65,815.7 796.51,815.5 797.36,815.27 798.2,815.02 799.01,814.74 799.8,814.44 800.57,814.11 801.31,813.76 802.02,813.39 802.71,813 803.36,812.59 803.97,812.16 804.55,811.71 805.09,811.25 805.6,810.78 806.06,810.29 806.48,809.79 806.86,809.27 807.2,808.75 807.49,808.23 807.74,807.69 807.94,807.16 808.09,806.62 808.2,806.08 808.26,805.53 808.28,804.99 808.25,804.46" fill="none" stroke="#111" stroke-width="1.6"/>
<polygon points="790.99,638.97 791.75,638.63 792.46,638.28 793.14,637.9 793.78,637.52 794.38,637.12 794.94,636.71 795.46,636.28 795.93,635.85 796.35,635.41 796.72,634.96 797.05,634.51 797.33,634.05 797.56,633.58 797.73,633.12 797.86,632.65 797.93,632.18 797.96,631.72 797.93,631.25 797.85,630.8 797.73,630.34 797.55,629.9 797.32,629.46 797.04,629.03 796.72,628.61 796.34,628.2 795.93,627.8 795.46,627.42 794.96,627.05 794.41,626.7 793.82,626.36 793.19,626.04 792.53,625.73 791.83,625.45 791.1,625.18 790.33,624.94 789.54,624.72 788.72,624.51 787.87,624.33 787,624.17 786.12,624.03 785.21,623.92 784.29,623.83 783.35,623.76 782.4,623.72 781.45,623.7 780.49,623.7 779.52,623.73 778.56,623.78 777.6,623.86 776.64,623.96 775.69,624.08 774.74,624.22 773.81,624.39 772.9,624.58 772,624.79 771.12,625.02 770.26,625.27 769.43,625.54 768.62,625.84 767.84,626.14 767.09,626.47 766.37,626.81 765.69,627.17 765.04,627.55 764.43,627.93 763.86,628.34 763.33,628.75 762.85,629.17 762.41,629.6 762.01,630.05 761.66,630.49 761.36,630.95 761.11,631.41 760.91,631.87 760.75,632.34 760.65,632.8 760.6,633.27 760.6,633.74 760.65,634.2 760.76,634.66 760.91,635.11 761.11,635.56 761.37,635.99 761.67,636.42 762.03,636.84 762.43,637.25 762.88,637.65 763.37,638.03 763.91,638.39 764.5,638.74 765.12,639.08 765.79,639.39 766.49,639.69 767.23,639.97 768,640.23 768.8,640.46 769.64,640.67 770.5,640.87 771.39,641.03 772.3,641.18 773.22,641.3 774.17,641.39 775.13,641.46 776.1,641.51 777.09,641.53 778.07,641.53 779.06,641.5 780.06,641.44 781.04,641.37 782.03,641.26 783.01,641.13 783.97,640.98 784.92,640.81 785.86,640.61 786.78,640.39 787.67,640.14 788.54,639.88 789.39,639.6 790.21,639.29" fill="#c4186c" stroke="#000" stroke-width="1.8"/>
<polygon points="828.42,668.49 828.47,668.98 835.46,823.7 835.46,824.26 835.42,824.83 835.32,825.4 835.18,825.96 835,826.53 834.76,827.08 834.48,827.64 834.16,828.18 833.78,828.71 833.37,829.24 832.91,829.75 832.41,830.25 831.87,830.73 831.29,831.2 830.68,831.65 830.03,832.08 829.34,832.49 828.63,832.88 827.88,833.24 827.1,833.58 826.3,833.9 825.48,834.19 824.63,834.46 823.77,834.7 822.89,834.91 822,835.09 821.09,835.24 820.18,835.36 819.26,835.46 818.33,835.52 817.41,835.55 816.48,835.55 815.57,835.53 814.65,835.47 813.75,835.38 812.86,835.26 811.99,835.11 811.13,834.93 810.29,834.73 809.48,834.49 808.68,834.23 807.92,833.94 807.18,833.63 806.47,833.29 805.8,832.93 805.16,832.54 804.56,832.14 803.99,831.71 803.47,831.26 802.98,830.8 802.54,830.32 802.14,829.82 801.78,829.31 801.47,828.79 801.21,828.26 800.99,827.71 800.82,827.16 800.7,826.61 800.62,826.04 790.64,671.13 790.62,670.63 790.65,670.13 790.73,669.63 790.86,669.13 791.04,668.63 791.28,668.14 791.56,667.65 791.89,667.17 792.28,666.69 792.7,666.23 793.17,665.78 793.69,665.33 794.25,664.9 794.85,664.49 795.49,664.09 796.16,663.7 796.88,663.33 797.62,662.98 798.4,662.65 799.21,662.34 800.04,662.05 800.9,661.78 801.78,661.53 802.68,661.31 803.61,661.1 804.54,660.93 805.49,660.77 806.45,660.64 807.42,660.54 808.39,660.46 809.37,660.4 810.35,660.37 811.32,660.37 812.29,660.39 813.25,660.44 814.21,660.51 815.15,660.61 816.07,660.73 816.98,660.88 817.87,661.05 818.74,661.24 819.58,661.46 820.4,661.7 821.19,661.97 821.94,662.25 822.67,662.56 823.35,662.88 824.01,663.23 824.62,663.59 825.19,663.97 825.72,664.37 826.21,664.78 826.66,665.21 827.05,665.64 827.4,666.1 827.71,666.56 827.96,667.03 828.16,667.51 828.31,667.99" fill="url(#bg2)"/>
<polygon points="828.42,668.49 828.47,668.98 835.46,823.7 835.46,824.26 835.42,824.83 835.32,825.4 835.18,825.96 835,826.53 834.76,827.08 834.48,827.64 834.16,828.18 833.78,828.71 833.37,829.24 832.91,829.75 832.41,830.25 831.87,830.73 831.29,831.2 830.68,831.65 830.03,832.08 829.34,832.49 828.63,832.88 827.88,833.24 827.1,833.58 826.3,833.9 825.48,834.19 824.63,834.46 823.77,834.7 822.89,834.91 822,835.09 821.09,835.24 820.18,835.36 819.26,835.46 818.33,835.52 817.41,835.55 816.48,835.55 815.57,835.53 814.65,835.47 813.75,835.38 812.86,835.26 811.99,835.11 811.13,834.93 810.29,834.73 809.48,834.49 808.68,834.23 807.92,833.94 807.18,833.63 806.47,833.29 805.8,832.93 805.16,832.54 804.56,832.14 803.99,831.71 803.47,831.26 802.98,830.8 802.54,830.32 802.14,829.82 801.78,829.31 801.47,828.79 801.21,828.26 800.99,827.71 800.82,827.16 800.7,826.61 800.62,826.04 790.64,671.13 790.62,670.63 790.65,670.13 790.73,669.63 790.86,669.13 791.04,668.63 791.28,668.14 791.56,667.65 791.89,667.17 792.28,666.69 792.7,666.23 793.17,665.78 793.69,665.33 794.25,664.9 794.85,664.49 795.49,664.09 796.16,663.7 796.88,663.33 797.62,662.98 798.4,662.65 799.21,662.34 800.04,662.05 800.9,661.78 801.78,661.53 802.68,661.31 803.61,661.1 804.54,660.93 805.49,660.77 806.45,660.64 807.42,660.54 808.39,660.46 809.37,660.4 810.35,660.37 811.32,660.37 812.29,660.39 813.25,660.44 814.21,660.51 815.15,660.61 816.07,660.73 816.98,660.88 817.87,661.05 818.74,661.24 819.58,661.46 820.4,661.7 821.19,661.97 821.94,662.25 822.67,662.56 823.35,662.88 824.01,663.23 824.62,663.59 825.19,663.97 825.72,664.37 826.21,664.78 826.66,665.21 827.05,665.64 827.4,666.1 827.71,666.56 827.96,667.03 828.16,667.51 828.31,667.99" fill="url(#bs2)"/>
<polyline points="800.62,826.04 800.7,826.61 800.82,827.16 800.99,827.71 801.21,828.26 801.47,828.79 801.78,829.31 802.14,829.82 802.54,830.32 802.98,830.8 803.47,831.26 803.99,831.71 804.56,832.14 805.16,832.54 805.8,832.93 806.47,833.29 807.18,833.63 807.92,833.94 808.68,834.23 809.48,834.49 810.29,834.73 811.13,834.93 811.99,835.11 812.86,835.26 813.75,835.38 814.65,835.47 815.57,835.53 816.48,835.55 817.41,835.55 818.33,835.52 819.26,835.46 820.18,835.36 821.09,835.24 822,835.09 822.89,834.91 823.77,834.7 824.63,834.46 825.48,834.19 826.3,833.9 827.1,833.58 827.88,833.24 828.63,832.88 829.34,832.49 830.03,832.08 830.68,831.65 831.29,831.2 831.87,830.73 832.41,830.25 832.91,829.75 833.37,829.24 833.78,828.71 834.16,828.18 834.48,827.64 834.76,827.08 835,826.53 835.18,825.96 835.32,825.4 835.42,824.83 835.46,824.26 835.46,823.7" fill="none" stroke="#111" stroke-width="1.6"/>
<polygon points="821.74,676.77 822.49,676.41 823.2,676.02 823.87,675.62 824.51,675.21 825.1,674.78 825.64,674.34 826.15,673.89 826.6,673.42 827.01,672.95 827.37,672.47 827.68,671.98 827.94,671.48 828.15,670.99 828.3,670.49 828.41,669.98 828.46,669.48 828.47,668.98 828.42,668.49 828.31,667.99 828.16,667.51 827.96,667.03 827.71,666.56 827.4,666.1 827.05,665.64 826.66,665.21 826.21,664.78 825.72,664.37 825.19,663.97 824.62,663.59 824.01,663.23 823.35,662.88 822.67,662.56 821.94,662.25 821.19,661.97 820.4,661.7 819.58,661.46 818.74,661.24 817.87,661.05 816.98,660.88 816.07,660.73 815.15,660.61 814.21,660.51 813.25,660.44 812.29,660.39 811.32,660.37 810.35,660.37 809.37,660.4 808.39,660.46 807.42,660.54 806.45,660.64 805.49,660.77 804.54,660.93 803.61,661.1 802.68,661.31 801.78,661.53 800.9,661.78 800.04,662.05 799.21,662.34 798.4,662.65 797.62,662.98 796.88,663.33 796.16,663.7 795.49,664.09 794.85,664.49 794.25,664.9 793.69,665.33 793.17,665.78 792.7,666.23 792.28,666.69 791.89,667.17 791.56,667.65 791.28,668.14 791.04,668.63 790.86,669.13 790.73,669.63 790.65,670.13 790.62,670.63 790.64,671.13 790.71,671.63 790.84,672.12 791.02,672.6 791.24,673.08 791.52,673.55 791.85,674.02 792.23,674.47 792.66,674.9 793.14,675.33 793.66,675.74 794.22,676.13 794.83,676.51 795.48,676.87 796.17,677.21 796.9,677.53 797.66,677.83 798.46,678.1 799.28,678.36 800.14,678.59 801.03,678.79 801.93,678.97 802.86,679.13 803.81,679.26 804.78,679.36 805.76,679.44 806.75,679.49 807.74,679.51 808.75,679.51 809.75,679.48 810.76,679.42 811.76,679.33 812.75,679.22 813.74,679.09 814.71,678.92 815.67,678.74 816.61,678.52 817.53,678.29 818.43,678.03 819.3,677.74 820.14,677.44 820.96,677.12" fill="#c4186c" stroke="#000" stroke-width="1.8"/>
<polygon points="828.29,845.15 821.49,708.39 821.5,707.85 821.56,707.32 821.67,706.78 821.83,706.25 822.05,705.72 822.31,705.2 822.63,704.68 822.99,704.17 823.41,703.68 823.86,703.19 824.37,702.72 824.92,702.26 825.51,701.81 826.14,701.38 826.81,700.97 827.51,700.58 828.25,700.2 829.03,699.85 829.83,699.51 830.67,699.2 831.53,698.91 832.41,698.65 833.32,698.41 834.24,698.19 835.18,698 836.14,697.84 837.11,697.7 838.09,697.59 839.07,697.5 840.06,697.44 841.05,697.41 842.04,697.41 843.03,697.43 844.01,697.48 844.98,697.56 845.94,697.67 846.89,697.8 847.82,697.96 848.73,698.14 849.62,698.35 850.48,698.58 851.32,698.84 852.14,699.13 852.92,699.43 853.67,699.76 854.38,700.11 855.06,700.48 855.7,700.87 856.3,701.28 856.86,701.7 857.37,702.14 857.84,702.6 858.27,703.07 858.64,703.55 858.97,704.05 859.25,704.55 859.48,705.07 859.66,705.59 859.78,706.12 859.86,706.65 859.88,707.18 863.96,843.89 863.93,844.48 863.86,845.08 863.74,845.67 863.56,846.26 863.34,846.84 863.07,847.42 862.76,847.99 862.4,848.55 861.99,849.1 861.54,849.64 861.05,850.16 860.51,850.67 859.93,851.16 859.32,851.63 858.67,852.08 857.98,852.51 857.26,852.91 856.51,853.3 855.72,853.66 854.91,853.99 854.08,854.29 853.22,854.57 852.35,854.82 851.45,855.04 850.54,855.23 849.62,855.39 848.69,855.52 847.75,855.62 846.8,855.68 845.86,855.72 844.91,855.72 843.97,855.69 843.03,855.63 842.11,855.53 841.19,855.41 840.29,855.25 839.4,855.07 838.54,854.85 837.69,854.6 836.87,854.33 836.08,854.03 835.31,853.7 834.58,853.34 833.88,852.96 833.21,852.56 832.58,852.13 831.98,851.69 831.43,851.22 830.92,850.73 830.45,850.23 830.02,849.71 829.64,849.17 829.3,848.62 829.01,848.06 828.77,847.5 828.58,846.92 828.43,846.33 828.34,845.75" fill="url(#bg3)"/>
<polygon points="828.29,845.15 821.49,708.39 821.5,707.85 821.56,707.32 821.67,706.78 821.83,706.25 822.05,705.72 822.31,705.2 822.63,704.68 822.99,704.17 823.41,703.68 823.86,703.19 824.37,702.72 824.92,702.26 825.51,701.81 826.14,701.38 826.81,700.97 827.51,700.58 828.25,700.2 829.03,699.85 829.83,699.51 830.67,699.2 831.53,698.91 832.41,698.65 833.32,698.41 834.24,698.19 835.18,698 836.14,697.84 837.11,697.7 838.09,697.59 839.07,697.5 840.06,697.44 841.05,697.41 842.04,697.41 843.03,697.43 844.01,697.48 844.98,697.56 845.94,697.67 846.89,697.8 847.82,697.96 848.73,698.14 849.62,698.35 850.48,698.58 851.32,698.84 852.14,699.13 852.92,699.43 853.67,699.76 854.38,700.11 855.06,700.48 855.7,700.87 856.3,701.28 856.86,701.7 857.37,702.14 857.84,702.6 858.27,703.07 858.64,703.55 858.97,704.05 859.25,704.55 859.48,705.07 859.66,705.59 859.78,706.12 859.86,706.65 859.88,707.18 863.96,843.89 863.93,844.48 863.86,845.08 863.74,845.67 863.56,846.26 863.34,846.84 863.07,847.42 862.76,847.99 862.4,848.55 861.99,849.1 861.54,849.64 861.05,850.16 860.51,850.67 859.93,851.16 859.32,851.63 858.67,852.08 857.98,852.51 857.26,852.91 856.51,853.3 855.72,853.66 854.91,853.99 854.08,854.29 853.22,854.57 852.35,854.82 851.45,855.04 850.54,855.23 849.62,855.39 848.69,855.52 847.75,855.62 846.8,855.68 845.86,855.72 844.91,855.72 843.97,855.69 843.03,855.63 842.11,855.53 841.19,855.41 840.29,855.25 839.4,855.07 838.54,854.85 837.69,854.6 836.87,854.33 836.08,854.03 835.31,853.7 834.58,853.34 833.88,852.96 833.21,852.56 832.58,852.13 831.98,851.69 831.43,851.22 830.92,850.73 830.45,850.23 830.02,849.71 829.64,849.17 829.3,848.62 829.01,848.06 828.77,847.5 828.58,846.92 828.43,846.33 828.34,845.75" fill="url(#bs3)"/>
<polyline points="828.29,845.15 828.34,845.75 828.43,846.33 828.58,846.92 828.77,847.5 829.01,848.06 829.3,848.62 829.64,849.17 830.02,849.71 830.45,850.23 830.92,850.73 831.43,851.22 831.98,851.69 832.58,852.13 833.21,852.56 833.88,852.96 834.58,853.34 835.31,853.7 836.08,854.03 836.87,854.33 837.69,854.6 838.54,854.85 839.4,855.07 840.29,855.25 841.19,855.41 842.11,855.53 843.03,855.63 843.97,855.69 844.91,855.72 845.86,855.72 846.8,855.68 847.75,855.62 848.69,855.52 849.62,855.39 850.54,855.23 851.45,855.04 852.35,854.82 853.22,854.57 854.08,854.29 854.91,853.99 855.72,853.66 856.51,853.3 857.26,852.91 857.98,852.51 858.67,852.08 859.32,851.63 859.93,851.16 860.51,850.67 861.05,850.16 861.54,849.64 861.99,849.1 862.4,848.55 862.76,847.99 863.07,847.42 863.34,846.84 863.56,846.26 863.74,845.67 863.86,845.08 863.93,844.48 863.96,843.89" fill="none" stroke="#111" stroke-width="1.6"/>
<polygon points="853.39,714.99 854.14,714.6 854.84,714.19 855.51,713.76 856.13,713.32 856.71,712.86 857.24,712.39 857.73,711.9 858.17,711.4 858.57,710.9 858.91,710.38 859.2,709.86 859.44,709.33 859.63,708.79 859.76,708.26 859.85,707.72 859.88,707.18 859.86,706.65 859.78,706.12 859.66,705.59 859.48,705.07 859.25,704.55 858.97,704.05 858.64,703.55 858.27,703.07 857.84,702.6 857.37,702.14 856.86,701.7 856.3,701.28 855.7,700.87 855.06,700.48 854.38,700.11 853.67,699.76 852.92,699.43 852.14,699.13 851.32,698.84 850.48,698.58 849.62,698.35 848.73,698.14 847.82,697.96 846.89,697.8 845.94,697.67 844.98,697.56 844.01,697.48 843.03,697.43 842.04,697.41 841.05,697.41 840.06,697.44 839.07,697.5 838.09,697.59 837.11,697.7 836.14,697.84 835.18,698 834.24,698.19 833.32,698.41 832.41,698.65 831.53,698.91 830.67,699.2 829.83,699.51 829.03,699.85 828.25,700.2 827.51,700.58 826.81,700.97 826.14,701.38 825.51,701.81 824.92,702.26 824.37,702.72 823.86,703.19 823.41,703.68 822.99,704.17 822.63,704.68 822.31,705.2 822.05,705.72 821.83,706.25 821.67,706.78 821.56,707.32 821.5,707.85 821.49,708.39 821.53,708.93 821.63,709.46 821.78,709.98 821.99,710.51 822.24,711.02 822.55,711.53 822.9,712.02 823.31,712.5 823.76,712.97 824.27,713.43 824.81,713.87 825.41,714.29 826.04,714.7 826.72,715.08 827.43,715.45 828.19,715.79 828.98,716.11 829.8,716.4 830.65,716.68 831.53,716.92 832.44,717.14 833.37,717.34 834.33,717.51 835.3,717.65 836.28,717.76 837.28,717.84 838.29,717.89 839.3,717.92 840.32,717.92 841.34,717.88 842.36,717.82 843.37,717.73 844.37,717.62 845.37,717.47 846.35,717.3 847.31,717.09 848.26,716.87 849.18,716.61 850.09,716.34 850.96,716.03 851.8,715.71 852.62,715.36" fill="#c4186c" stroke="#000" stroke-width="1.8"/>
<polygon points="892.29,747.23 893.85,864.47 893.85,865.09 893.79,865.72 893.69,866.34 893.53,866.96 893.33,867.57 893.07,868.18 892.77,868.78 892.42,869.37 892.02,869.94 891.58,870.5 891.09,871.05 890.56,871.58 889.99,872.1 889.37,872.59 888.72,873.06 888.03,873.52 887.31,873.94 886.55,874.34 885.76,874.72 884.94,875.07 884.1,875.39 883.23,875.68 882.34,875.94 881.43,876.17 880.51,876.37 879.57,876.54 878.61,876.68 877.65,876.78 876.69,876.85 875.72,876.88 874.75,876.88 873.78,876.85 872.82,876.79 871.87,876.69 870.93,876.56 870,876.39 869.08,876.2 868.19,875.97 867.31,875.71 866.46,875.42 865.64,875.11 864.84,874.76 864.07,874.39 863.34,873.99 862.64,873.56 861.98,873.12 861.35,872.65 860.77,872.15 860.23,871.64 859.73,871.11 859.27,870.57 858.86,870.01 858.5,869.43 858.18,868.85 857.92,868.25 857.7,867.64 857.53,867.03 857.41,866.41 857.34,865.79 853.36,748.5 853.34,747.93 853.38,747.35 853.47,746.78 853.61,746.21 853.81,745.64 854.05,745.08 854.35,744.53 854.7,743.99 855.09,743.45 855.54,742.93 856.03,742.43 856.56,741.93 857.14,741.46 857.76,741 858.42,740.56 859.12,740.13 859.86,739.73 860.63,739.35 861.43,739 862.26,738.67 863.12,738.36 864.01,738.07 864.92,737.82 865.85,737.59 866.8,737.38 867.76,737.21 868.74,737.06 869.72,736.94 870.72,736.85 871.72,736.79 872.73,736.75 873.73,736.75 874.73,736.78 875.73,736.83 876.72,736.92 877.7,737.03 878.67,737.17 879.62,737.34 880.55,737.54 881.46,737.76 882.35,738.01 883.22,738.29 884.05,738.6 884.86,738.92 885.64,739.28 886.38,739.65 887.09,740.05 887.75,740.46 888.38,740.9 888.97,741.36 889.51,741.83 890.01,742.32 890.46,742.82 890.87,743.34 891.22,743.87 891.53,744.41 891.78,744.96 891.99,745.52 892.14,746.09 892.24,746.66" fill="url(#bg4)"/>
<polygon points="892.29,747.23 893.85,864.47 893.85,865.09 893.79,865.72 893.69,866.34 893.53,866.96 893.33,867.57 893.07,868.18 892.77,868.78 892.42,869.37 892.02,869.94 891.58,870.5 891.09,871.05 890.56,871.58 889.99,872.1 889.37,872.59 888.72,873.06 888.03,873.52 887.31,873.94 886.55,874.34 885.76,874.72 884.94,875.07 884.1,875.39 883.23,875.68 882.34,875.94 881.43,876.17 880.51,876.37 879.57,876.54 878.61,876.68 877.65,876.78 876.69,876.85 875.72,876.88 874.75,876.88 873.78,876.85 872.82,876.79 871.87,876.69 870.93,876.56 870,876.39 869.08,876.2 868.19,875.97 867.31,875.71 866.46,875.42 865.64,875.11 864.84,874.76 864.07,874.39 863.34,873.99 862.64,873.56 861.98,873.12 861.35,872.65 860.77,872.15 860.23,871.64 859.73,871.11 859.27,870.57 858.86,870.01 858.5,869.43 858.18,868.85 857.92,868.25 857.7,867.64 857.53,867.03 857.41,866.41 857.34,865.79 853.36,748.5 853.34,747.93 853.38,747.35 853.47,746.78 853.61,746.21 853.81,745.64 854.05,745.08 854.35,744.53 854.7,743.99 855.09,743.45 855.54,742.93 856.03,742.43 856.56,741.93 857.14,741.46 857.76,741 858.42,740.56 859.12,740.13 859.86,739.73 860.63,739.35 861.43,739 862.26,738.67 863.12,738.36 864.01,738.07 864.92,737.82 865.85,737.59 866.8,737.38 867.76,737.21 868.74,737.06 869.72,736.94 870.72,736.85 871.72,736.79 872.73,736.75 873.73,736.75 874.73,736.78 875.73,736.83 876.72,736.92 877.7,737.03 878.67,737.17 879.62,737.34 880.55,737.54 881.46,737.76 882.35,738.01 883.22,738.29 884.05,738.6 884.86,738.92 885.64,739.28 886.38,739.65 887.09,740.05 887.75,740.46 888.38,740.9 888.97,741.36 889.51,741.83 890.01,742.32 890.46,742.82 890.87,743.34 891.22,743.87 891.53,744.41 891.78,744.96 891.99,745.52 892.14,746.09 892.24,746.66" fill="url(#bs4)"/>
<polyline points="857.34,865.79 857.41,866.41 857.53,867.03 857.7,867.64 857.92,868.25 858.18,868.85 858.5,869.43 858.86,870.01 859.27,870.57 859.73,871.11 860.23,871.64 860.77,872.15 861.35,872.65 861.98,873.12 862.64,873.56 863.34,873.99 864.07,874.39 864.84,874.76 865.64,875.11 866.46,875.42 867.31,875.71 868.19,875.97 869.08,876.2 870,876.39 870.93,876.56 871.87,876.69 872.82,876.79 873.78,876.85 874.75,876.88 875.72,876.88 876.69,876.85 877.65,876.78 878.61,876.68 879.57,876.54 880.51,876.37 881.43,876.17 882.34,875.94 883.23,875.68 884.1,875.39 884.94,875.07 885.76,874.72 886.55,874.34 887.31,873.94 888.03,873.52 888.72,873.06 889.37,872.59 889.99,872.1 890.56,871.58 891.09,871.05 891.58,870.5 892.02,869.94 892.42,869.37 892.77,868.78 893.07,868.18 893.33,867.57 893.53,866.96 893.69,866.34 893.79,865.72 893.85,865.09 893.85,864.47" fill="none" stroke="#111" stroke-width="1.6"/>
<polygon points="886.06,755.59 886.79,755.18 887.49,754.74 888.15,754.28 888.76,753.81 889.33,753.31 889.85,752.81 890.32,752.29 890.75,751.75 891.12,751.21 891.45,750.66 891.72,750.1 891.94,749.53 892.1,748.96 892.22,748.38 892.28,747.81 892.29,747.23 892.24,746.66 892.14,746.09 891.99,745.52 891.78,744.96 891.53,744.41 891.22,743.87 890.87,743.34 890.46,742.82 890.01,742.32 889.51,741.83 888.97,741.36 888.38,740.9 887.75,740.46 887.09,740.05 886.38,739.65 885.64,739.28 884.86,738.92 884.05,738.6 883.22,738.29 882.35,738.01 881.46,737.76 880.55,737.54 879.62,737.34 878.67,737.17 877.7,737.03 876.72,736.92 875.73,736.83 874.73,736.78 873.73,736.75 872.73,736.75 871.72,736.79 870.72,736.85 869.72,736.94 868.74,737.06 867.76,737.21 866.8,737.38 865.85,737.59 864.92,737.82 864.01,738.07 863.12,738.36 862.26,738.67 861.43,739 860.63,739.35 859.86,739.73 859.12,740.13 858.42,740.56 857.76,741 857.14,741.46 856.56,741.93 856.03,742.43 855.54,742.93 855.09,743.45 854.7,743.99 854.35,744.53 854.05,745.08 853.81,745.64 853.61,746.21 853.47,746.78 853.38,747.35 853.34,747.93 853.36,748.5 853.43,749.08 853.55,749.65 853.73,750.21 853.96,750.77 854.24,751.32 854.58,751.86 854.96,752.39 855.39,752.91 855.88,753.42 856.41,753.91 856.98,754.38 857.6,754.83 858.27,755.26 858.97,755.68 859.72,756.07 860.5,756.44 861.31,756.78 862.16,757.1 863.04,757.39 863.95,757.66 864.88,757.89 865.83,758.1 866.81,758.28 867.8,758.43 868.81,758.55 869.82,758.64 870.85,758.7 871.88,758.73 872.91,758.73 873.95,758.69 874.98,758.63 876,758.53 877.02,758.4 878.02,758.25 879.01,758.06 879.98,757.85 880.93,757.6 881.86,757.33 882.76,757.04 883.63,756.71 884.47,756.36 885.28,755.99" fill="#c4186c" stroke="#000" stroke-width="1.8"/>
<polygon points="1070.96,744.99 1070.93,745.49 1066.77,796.89 1066.69,797.41 1066.57,797.92 1066.4,798.43 1066.18,798.93 1065.92,799.42 1065.61,799.9 1065.26,800.36 1064.87,800.81 1064.43,801.25 1063.95,801.67 1063.44,802.07 1062.88,802.45 1062.29,802.81 1061.67,803.15 1061.01,803.47 1060.31,803.77 1059.59,804.04 1058.85,804.29 1058.07,804.51 1057.27,804.71 1056.46,804.88 1055.62,805.02 1054.77,805.14 1053.9,805.22 1053.02,805.28 1052.13,805.31 1051.24,805.32 1050.34,805.29 1049.44,805.23 1048.54,805.15 1047.64,805.04 1046.76,804.9 1045.88,804.74 1045.01,804.55 1044.15,804.33 1043.31,804.08 1042.49,803.82 1041.7,803.52 1040.92,803.21 1040.17,802.87 1039.44,802.51 1038.75,802.13 1038.09,801.73 1037.46,801.32 1036.86,800.89 1036.3,800.44 1035.78,799.97 1035.3,799.5 1034.86,799.01 1034.46,798.51 1034.1,798.01 1033.79,797.49 1033.52,796.97 1033.29,796.45 1033.11,795.92 1032.98,795.39 1032.9,794.87 1032.86,794.34 1032.86,793.81 1036.06,742.56 1036.11,742.06 1036.21,741.56 1036.36,741.07 1036.55,740.59 1036.79,740.12 1037.07,739.66 1037.4,739.21 1037.77,738.77 1038.19,738.35 1038.64,737.94 1039.14,737.55 1039.67,737.18 1040.24,736.82 1040.85,736.49 1041.49,736.17 1042.16,735.87 1042.86,735.6 1043.59,735.35 1044.35,735.12 1045.13,734.92 1045.93,734.74 1046.76,734.58 1047.6,734.45 1048.45,734.34 1049.32,734.26 1050.2,734.21 1051.09,734.18 1051.99,734.17 1052.89,734.2 1053.79,734.25 1054.69,734.32 1055.59,734.42 1056.48,734.55 1057.37,734.7 1058.24,734.87 1059.11,735.07 1059.95,735.3 1060.79,735.54 1061.6,735.81 1062.39,736.1 1063.15,736.41 1063.89,736.75 1064.61,737.1 1065.29,737.47 1065.94,737.86 1066.56,738.26 1067.15,738.68 1067.69,739.11 1068.2,739.56 1068.67,740.02 1069.1,740.49 1069.49,740.97 1069.83,741.46 1070.13,741.95 1070.39,742.45 1070.59,742.96 1070.76,743.46 1070.87,743.97 1070.94,744.48" fill="url(#bg5)"/>
<polygon points="1070.96,744.99 1070.93,745.49 1066.77,796.89 1066.69,797.41 1066.57,797.92 1066.4,798.43 1066.18,798.93 1065.92,799.42 1065.61,799.9 1065.26,800.36 1064.87,800.81 1064.43,801.25 1063.95,801.67 1063.44,802.07 1062.88,802.45 1062.29,802.81 1061.67,803.15 1061.01,803.47 1060.31,803.77 1059.59,804.04 1058.85,804.29 1058.07,804.51 1057.27,804.71 1056.46,804.88 1055.62,805.02 1054.77,805.14 1053.9,805.22 1053.02,805.28 1052.13,805.31 1051.24,805.32 1050.34,805.29 1049.44,805.23 1048.54,805.15 1047.64,805.04 1046.76,804.9 1045.88,804.74 1045.01,804.55 1044.15,804.33 1043.31,804.08 1042.49,803.82 1041.7,803.52 1040.92,803.21 1040.17,802.87 1039.44,802.51 1038.75,802.13 1038.09,801.73 1037.46,801.32 1036.86,800.89 1036.3,800.44 1035.78,799.97 1035.3,799.5 1034.86,799.01 1034.46,798.51 1034.1,798.01 1033.79,797.49 1033.52,796.97 1033.29,796.45 1033.11,795.92 1032.98,795.39 1032.9,794.87 1032.86,794.34 1032.86,793.81 1036.06,742.56 1036.11,742.06 1036.21,741.56 1036.36,741.07 1036.55,740.59 1036.79,740.12 1037.07,739.66 1037.4,739.21 1037.77,738.77 1038.19,738.35 1038.64,737.94 1039.14,737.55 1039.67,737.18 1040.24,736.82 1040.85,736.49 1041.49,736.17 1042.16,735.87 1042.86,735.6 1043.59,735.35 1044.35,735.12 1045.13,734.92 1045.93,734.74 1046.76,734.58 1047.6,734.45 1048.45,734.34 1049.32,734.26 1050.2,734.21 1051.09,734.18 1051.99,734.17 1052.89,734.2 1053.79,734.25 1054.69,734.32 1055.59,734.42 1056.48,734.55 1057.37,734.7 1058.24,734.87 1059.11,735.07 1059.95,735.3 1060.79,735.54 1061.6,735.81 1062.39,736.1 1063.15,736.41 1063.89,736.75 1064.61,737.1 1065.29,737.47 1065.94,737.86 1066.56,738.26 1067.15,738.68 1067.69,739.11 1068.2,739.56 1068.67,740.02 1069.1,740.49 1069.49,740.97 1069.83,741.46 1070.13,741.95 1070.39,742.45 1070.59,742.96 1070.76,743.46 1070.87,743.97 1070.94,744.48" fill="url(#bs5)"/>
<polyline points="1032.86,793.81 1032.86,794.34 1032.9,794.87 1032.98,795.39 1033.11,795.92 1033.29,796.45 1033.52,796.97 1033.79,797.49 1034.1,798.01 1034.46,798.51 1034.86,799.01 1035.3,799.5 1035.78,799.97 1036.3,800.44 1036.86,800.89 1037.46,801.32 1038.09,801.73 1038.75,802.13 1039.44,802.51 1040.17,802.87 1040.92,803.21 1041.7,803.52 1042.49,803.82 1043.31,804.08 1044.15,804.33 1045.01,804.55 1045.88,804.74 1046.76,804.9 1047.64,805.04 1048.54,805.15 1049.44,805.23 1050.34,805.29 1051.24,805.32 1052.13,805.31 1053.02,805.28 1053.9,805.22 1054.77,805.14 1055.62,805.02 1056.46,804.88 1057.27,804.71 1058.07,804.51 1058.85,804.29 1059.59,804.04 1060.31,803.77 1061.01,803.47 1061.67,803.15 1062.29,802.81 1062.88,802.45 1063.44,802.07 1063.95,801.67 1064.43,801.25 1064.87,800.81 1065.26,800.36 1065.61,799.9 1065.92,799.42 1066.18,798.93 1066.4,798.43 1066.57,797.92 1066.69,797.41 1066.77,796.89" fill="none" stroke="#111" stroke-width="1.6"/>
<polygon points="1066.96,750.85 1067.53,750.49 1068.06,750.1 1068.54,749.7 1068.99,749.28 1069.39,748.84 1069.75,748.39 1070.06,747.93 1070.33,747.46 1070.55,746.98 1070.72,746.49 1070.85,746 1070.93,745.49 1070.96,744.99 1070.94,744.48 1070.87,743.97 1070.76,743.46 1070.59,742.96 1070.39,742.45 1070.13,741.95 1069.83,741.46 1069.49,740.97 1069.1,740.49 1068.67,740.02 1068.2,739.56 1067.69,739.11 1067.15,738.68 1066.56,738.26 1065.94,737.86 1065.29,737.47 1064.61,737.1 1063.89,736.75 1063.15,736.41 1062.39,736.1 1061.6,735.81 1060.79,735.54 1059.95,735.3 1059.11,735.07 1058.24,734.87 1057.37,734.7 1056.48,734.55 1055.59,734.42 1054.69,734.32 1053.79,734.25 1052.89,734.2 1051.99,734.17 1051.09,734.18 1050.2,734.21 1049.32,734.26 1048.45,734.34 1047.6,734.45 1046.76,734.58 1045.93,734.74 1045.13,734.92 1044.35,735.12 1043.59,735.35 1042.86,735.6 1042.16,735.87 1041.49,736.17 1040.85,736.49 1040.24,736.82 1039.67,737.18 1039.14,737.55 1038.64,737.94 1038.19,738.35 1037.77,738.77 1037.4,739.21 1037.07,739.66 1036.79,740.12 1036.55,740.59 1036.36,741.07 1036.21,741.56 1036.11,742.06 1036.06,742.56 1036.06,743.06 1036.1,743.57 1036.19,744.08 1036.33,744.59 1036.51,745.1 1036.75,745.6 1037.02,746.1 1037.35,746.6 1037.72,747.08 1038.13,747.56 1038.59,748.03 1039.08,748.49 1039.62,748.93 1040.2,749.36 1040.81,749.78 1041.46,750.18 1042.15,750.56 1042.86,750.93 1043.61,751.27 1044.38,751.6 1045.18,751.9 1046,752.18 1046.85,752.44 1047.71,752.67 1048.59,752.88 1049.49,753.07 1050.39,753.23 1051.31,753.36 1052.23,753.46 1053.15,753.54 1054.08,753.6 1055,753.62 1055.92,753.62 1056.83,753.59 1057.74,753.53 1058.63,753.45 1059.5,753.33 1060.36,753.2 1061.2,753.03 1062.02,752.84 1062.82,752.63 1063.59,752.39 1064.33,752.13 1065.04,751.84 1065.71,751.53 1066.35,751.2" fill="#901aa0" stroke="#000" stroke-width="1.8"/>
<polygon points="999.4,815.37 1002.15,754.13 1002.18,753.6 1002.25,753.08 1002.38,752.56 1002.55,752.05 1002.77,751.55 1003.04,751.05 1003.36,750.57 1003.72,750.1 1004.12,749.64 1004.57,749.2 1005.05,748.77 1005.58,748.37 1006.15,747.97 1006.75,747.6 1007.39,747.25 1008.07,746.92 1008.77,746.61 1009.51,746.33 1010.27,746.06 1011.06,745.82 1011.88,745.61 1012.71,745.42 1013.57,745.26 1014.44,745.12 1015.33,745.01 1016.23,744.93 1017.14,744.87 1018.06,744.84 1018.98,744.84 1019.91,744.86 1020.84,744.91 1021.76,744.99 1022.68,745.09 1023.6,745.23 1024.5,745.38 1025.4,745.57 1026.28,745.78 1027.14,746.01 1027.98,746.27 1028.81,746.55 1029.61,746.85 1030.39,747.18 1031.13,747.53 1031.85,747.9 1032.54,748.28 1033.2,748.69 1033.82,749.11 1034.4,749.55 1034.94,750 1035.45,750.47 1035.91,750.95 1036.33,751.44 1036.71,751.94 1037.04,752.46 1037.33,752.97 1037.57,753.5 1037.76,754.02 1037.9,754.56 1038,755.09 1038.05,755.62 1038.04,756.15 1034.12,817.51 1034.07,818.07 1033.97,818.61 1033.82,819.16 1033.62,819.69 1033.38,820.22 1033.09,820.73 1032.76,821.23 1032.38,821.72 1031.95,822.2 1031.49,822.66 1030.98,823.1 1030.44,823.52 1029.85,823.92 1029.23,824.3 1028.57,824.66 1027.88,825 1027.16,825.31 1026.41,825.6 1025.63,825.86 1024.83,826.09 1024.01,826.3 1023.16,826.48 1022.3,826.63 1021.42,826.75 1020.52,826.84 1019.62,826.9 1018.71,826.93 1017.79,826.94 1016.87,826.91 1015.95,826.85 1015.03,826.76 1014.12,826.65 1013.21,826.5 1012.32,826.33 1011.43,826.12 1010.57,825.89 1009.72,825.64 1008.89,825.35 1008.08,825.05 1007.3,824.71 1006.54,824.36 1005.81,823.98 1005.12,823.58 1004.45,823.16 1003.82,822.72 1003.23,822.27 1002.68,821.79 1002.16,821.31 1001.69,820.81 1001.26,820.29 1000.87,819.77 1000.52,819.24 1000.22,818.7 999.97,818.15 999.76,817.6 999.6,817.04 999.49,816.49 999.42,815.93" fill="url(#bg6)"/>
<polygon points="999.4,815.37 1002.15,754.13 1002.18,753.6 1002.25,753.08 1002.38,752.56 1002.55,752.05 1002.77,751.55 1003.04,751.05 1003.36,750.57 1003.72,750.1 1004.12,749.64 1004.57,749.2 1005.05,748.77 1005.58,748.37 1006.15,747.97 1006.75,747.6 1007.39,747.25 1008.07,746.92 1008.77,746.61 1009.51,746.33 1010.27,746.06 1011.06,745.82 1011.88,745.61 1012.71,745.42 1013.57,745.26 1014.44,745.12 1015.33,745.01 1016.23,744.93 1017.14,744.87 1018.06,744.84 1018.98,744.84 1019.91,744.86 1020.84,744.91 1021.76,744.99 1022.68,745.09 1023.6,745.23 1024.5,745.38 1025.4,745.57 1026.28,745.78 1027.14,746.01 1027.98,746.27 1028.81,746.55 1029.61,746.85 1030.39,747.18 1031.13,747.53 1031.85,747.9 1032.54,748.28 1033.2,748.69 1033.82,749.11 1034.4,749.55 1034.94,750 1035.45,750.47 1035.91,750.95 1036.33,751.44 1036.71,751.94 1037.04,752.46 1037.33,752.97 1037.57,753.5 1037.76,754.02 1037.9,754.56 1038,755.09 1038.05,755.62 1038.04,756.15 1034.12,817.51 1034.07,818.07 1033.97,818.61 1033.82,819.16 1033.62,819.69 1033.38,820.22 1033.09,820.73 1032.76,821.23 1032.38,821.72 1031.95,822.2 1031.49,822.66 1030.98,823.1 1030.44,823.52 1029.85,823.92 1029.23,824.3 1028.57,824.66 1027.88,825 1027.16,825.31 1026.41,825.6 1025.63,825.86 1024.83,826.09 1024.01,826.3 1023.16,826.48 1022.3,826.63 1021.42,826.75 1020.52,826.84 1019.62,826.9 1018.71,826.93 1017.79,826.94 1016.87,826.91 1015.95,826.85 1015.03,826.76 1014.12,826.65 1013.21,826.5 1012.32,826.33 1011.43,826.12 1010.57,825.89 1009.72,825.64 1008.89,825.35 1008.08,825.05 1007.3,824.71 1006.54,824.36 1005.81,823.98 1005.12,823.58 1004.45,823.16 1003.82,822.72 1003.23,822.27 1002.68,821.79 1002.16,821.31 1001.69,820.81 1001.26,820.29 1000.87,819.77 1000.52,819.24 1000.22,818.7 999.97,818.15 999.76,817.6 999.6,817.04 999.49,816.49 999.42,815.93" fill="url(#bs6)"/>
<polyline points="999.4,815.37 999.42,815.93 999.49,816.49 999.6,817.04 999.76,817.6 999.97,818.15 1000.22,818.7 1000.52,819.24 1000.87,819.77 1001.26,820.29 1001.69,820.81 1002.16,821.31 1002.68,821.79 1003.23,822.27 1003.82,822.72 1004.45,823.16 1005.12,823.58 1005.81,823.98 1006.54,824.36 1007.3,824.71 1008.08,825.05 1008.89,825.35 1009.72,825.64 1010.57,825.89 1011.43,826.12 1012.32,826.33 1013.21,826.5 1014.12,826.65 1015.03,826.76 1015.95,826.85 1016.87,826.91 1017.79,826.94 1018.71,826.93 1019.62,826.9 1020.52,826.84 1021.42,826.75 1022.3,826.63 1023.16,826.48 1024.01,826.3 1024.83,826.09 1025.63,825.86 1026.41,825.6 1027.16,825.31 1027.88,825 1028.57,824.66 1029.23,824.3 1029.85,823.92 1030.44,823.52 1030.98,823.1 1031.49,822.66 1031.95,822.2 1032.38,821.72 1032.76,821.23 1033.09,820.73 1033.38,820.22 1033.62,819.69 1033.82,819.16 1033.97,818.61 1034.07,818.07 1034.12,817.51" fill="none" stroke="#111" stroke-width="1.6"/>
<polygon points="1033.66,762.29 1034.26,761.91 1034.82,761.5 1035.35,761.08 1035.82,760.64 1036.26,760.19 1036.65,759.72 1036.99,759.23 1037.29,758.74 1037.54,758.24 1037.74,757.73 1037.89,757.21 1037.99,756.68 1038.04,756.15 1038.05,755.62 1038,755.09 1037.9,754.56 1037.76,754.02 1037.57,753.5 1037.33,752.97 1037.04,752.46 1036.71,751.94 1036.33,751.44 1035.91,750.95 1035.45,750.47 1034.94,750 1034.4,749.55 1033.82,749.11 1033.2,748.69 1032.54,748.28 1031.85,747.9 1031.13,747.53 1030.39,747.18 1029.61,746.85 1028.81,746.55 1027.98,746.27 1027.14,746.01 1026.28,745.78 1025.4,745.57 1024.5,745.38 1023.6,745.23 1022.68,745.09 1021.76,744.99 1020.84,744.91 1019.91,744.86 1018.98,744.84 1018.06,744.84 1017.14,744.87 1016.23,744.93 1015.33,745.01 1014.44,745.12 1013.57,745.26 1012.71,745.42 1011.88,745.61 1011.06,745.82 1010.27,746.06 1009.51,746.33 1008.77,746.61 1008.07,746.92 1007.39,747.25 1006.75,747.6 1006.15,747.97 1005.58,748.37 1005.05,748.77 1004.57,749.2 1004.12,749.64 1003.72,750.1 1003.36,750.57 1003.04,751.05 1002.77,751.55 1002.55,752.05 1002.38,752.56 1002.25,753.08 1002.18,753.6 1002.15,754.13 1002.17,754.66 1002.24,755.2 1002.36,755.73 1002.53,756.26 1002.74,756.79 1003.01,757.31 1003.32,757.83 1003.68,758.34 1004.08,758.84 1004.53,759.33 1005.02,759.81 1005.55,760.28 1006.13,760.73 1006.74,761.17 1007.39,761.58 1008.08,761.99 1008.8,762.37 1009.56,762.73 1010.34,763.07 1011.15,763.39 1011.99,763.68 1012.84,763.95 1013.72,764.2 1014.62,764.42 1015.54,764.61 1016.46,764.78 1017.4,764.91 1018.34,765.03 1019.29,765.11 1020.25,765.16 1021.2,765.19 1022.15,765.19 1023.09,765.15 1024.02,765.09 1024.95,765.01 1025.86,764.89 1026.75,764.75 1027.62,764.57 1028.48,764.38 1029.31,764.15 1030.11,763.9 1030.89,763.63 1031.63,763.33 1032.34,763 1033.02,762.66" fill="#1e92c8" stroke="#000" stroke-width="1.8"/>
<polygon points="1002.4,780.89 999.75,839.2 999.72,839.78 999.64,840.37 999.51,840.94 999.33,841.51 999.11,842.08 998.84,842.63 998.52,843.17 998.16,843.7 997.75,844.22 997.29,844.72 996.8,845.2 996.26,845.67 995.68,846.11 995.06,846.54 994.41,846.94 993.72,847.32 993,847.67 992.24,848 991.46,848.3 990.65,848.58 989.82,848.83 988.96,849.04 988.08,849.23 987.19,849.39 986.28,849.52 985.36,849.61 984.43,849.68 983.49,849.71 982.55,849.71 981.61,849.68 980.67,849.62 979.73,849.53 978.8,849.41 977.87,849.25 976.96,849.07 976.06,848.85 975.18,848.61 974.32,848.34 973.48,848.04 972.67,847.72 971.88,847.37 971.12,846.99 970.39,846.59 969.69,846.17 969.03,845.73 968.4,845.27 967.82,844.79 967.27,844.29 966.76,843.77 966.3,843.25 965.88,842.7 965.5,842.15 965.17,841.59 964.89,841.02 964.65,840.44 964.46,839.86 964.32,839.28 964.23,838.69 964.18,838.1 964.19,837.52 965.69,779.3 965.75,778.74 965.85,778.18 966.01,777.64 966.21,777.09 966.46,776.56 966.76,776.04 967.1,775.53 967.5,775.03 967.93,774.55 968.41,774.08 968.93,773.63 969.49,773.19 970.09,772.78 970.73,772.39 971.4,772.02 972.11,771.67 972.85,771.34 973.61,771.04 974.41,770.76 975.23,770.51 976.08,770.28 976.94,770.08 977.82,769.91 978.72,769.76 979.64,769.65 980.57,769.56 981.5,769.5 982.44,769.47 983.39,769.46 984.34,769.49 985.29,769.54 986.23,769.63 987.17,769.74 988.1,769.88 989.02,770.05 989.92,770.24 990.82,770.46 991.69,770.71 992.54,770.98 993.37,771.28 994.18,771.6 994.96,771.95 995.71,772.32 996.43,772.71 997.11,773.12 997.77,773.55 998.38,773.99 998.96,774.46 999.49,774.94 999.99,775.43 1000.44,775.94 1000.85,776.46 1001.21,776.99 1001.53,777.53 1001.8,778.08 1002.02,778.64 1002.19,779.2 1002.31,779.76 1002.38,780.32" fill="url(#bg7)"/>
<polygon points="1002.4,780.89 999.75,839.2 999.72,839.78 999.64,840.37 999.51,840.94 999.33,841.51 999.11,842.08 998.84,842.63 998.52,843.17 998.16,843.7 997.75,844.22 997.29,844.72 996.8,845.2 996.26,845.67 995.68,846.11 995.06,846.54 994.41,846.94 993.72,847.32 993,847.67 992.24,848 991.46,848.3 990.65,848.58 989.82,848.83 988.96,849.04 988.08,849.23 987.19,849.39 986.28,849.52 985.36,849.61 984.43,849.68 983.49,849.71 982.55,849.71 981.61,849.68 980.67,849.62 979.73,849.53 978.8,849.41 977.87,849.25 976.96,849.07 976.06,848.85 975.18,848.61 974.32,848.34 973.48,848.04 972.67,847.72 971.88,847.37 971.12,846.99 970.39,846.59 969.69,846.17 969.03,845.73 968.4,845.27 967.82,844.79 967.27,844.29 966.76,843.77 966.3,843.25 965.88,842.7 965.5,842.15 965.17,841.59 964.89,841.02 964.65,840.44 964.46,839.86 964.32,839.28 964.23,838.69 964.18,838.1 964.19,837.52 965.69,779.3 965.75,778.74 965.85,778.18 966.01,777.64 966.21,777.09 966.46,776.56 966.76,776.04 967.1,775.53 967.5,775.03 967.93,774.55 968.41,774.08 968.93,773.63 969.49,773.19 970.09,772.78 970.73,772.39 971.4,772.02 972.11,771.67 972.85,771.34 973.61,771.04 974.41,770.76 975.23,770.51 976.08,770.28 976.94,770.08 977.82,769.91 978.72,769.76 979.64,769.65 980.57,769.56 981.5,769.5 982.44,769.47 983.39,769.46 984.34,769.49 985.29,769.54 986.23,769.63 987.17,769.74 988.1,769.88 989.02,770.05 989.92,770.24 990.82,770.46 991.69,770.71 992.54,770.98 993.37,771.28 994.18,771.6 994.96,771.95 995.71,772.32 996.43,772.71 997.11,773.12 997.77,773.55 998.38,773.99 998.96,774.46 999.49,774.94 999.99,775.43 1000.44,775.94 1000.85,776.46 1001.21,776.99 1001.53,777.53 1001.8,778.08 1002.02,778.64 1002.19,779.2 1002.31,779.76 1002.38,780.32" fill="url(#bs7)"/>
<polyline points="964.19,837.52 964.18,838.1 964.23,838.69 964.32,839.28 964.46,839.86 964.65,840.44 964.89,841.02 965.17,841.59 965.5,842.15 965.88,842.7 966.3,843.25 966.76,843.77 967.27,844.29 967.82,844.79 968.4,845.27 969.03,845.73 969.69,846.17 970.39,846.59 971.12,846.99 971.88,847.37 972.67,847.72 973.48,848.04 974.32,848.34 975.18,848.61 976.06,848.85 976.96,849.07 977.87,849.25 978.8,849.41 979.73,849.53 980.67,849.62 981.61,849.68 982.55,849.71 983.49,849.71 984.43,849.68 985.36,849.61 986.28,849.52 987.19,849.39 988.08,849.23 988.96,849.04 989.82,848.83 990.65,848.58 991.46,848.3 992.24,848 993,847.67 993.72,847.32 994.41,846.94 995.06,846.54 995.68,846.11 996.26,845.67 996.8,845.2 997.29,844.72 997.75,844.22 998.16,843.7 998.52,843.17 998.84,842.63 999.11,842.08 999.33,841.51 999.51,840.94 999.64,840.37 999.72,839.78 999.75,839.2" fill="none" stroke="#111" stroke-width="1.6"/>
<polygon points="997.59,787.95 998.23,787.54 998.82,787.12 999.38,786.67 999.89,786.2 1000.36,785.72 1000.78,785.22 1001.15,784.71 1001.48,784.19 1001.76,783.66 1001.99,783.12 1002.17,782.57 1002.3,782.01 1002.37,781.45 1002.4,780.89 1002.38,780.32 1002.31,779.76 1002.19,779.2 1002.02,778.64 1001.8,778.08 1001.53,777.53 1001.21,776.99 1000.85,776.46 1000.44,775.94 999.99,775.43 999.49,774.94 998.96,774.46 998.38,773.99 997.77,773.55 997.11,773.12 996.43,772.71 995.71,772.32 994.96,771.95 994.18,771.6 993.37,771.28 992.54,770.98 991.69,770.71 990.82,770.46 989.92,770.24 989.02,770.05 988.1,769.88 987.17,769.74 986.23,769.63 985.29,769.54 984.34,769.49 983.39,769.46 982.44,769.47 981.5,769.5 980.57,769.56 979.64,769.65 978.72,769.76 977.82,769.91 976.94,770.08 976.08,770.28 975.23,770.51 974.41,770.76 973.61,771.04 972.85,771.34 972.11,771.67 971.4,772.02 970.73,772.39 970.09,772.78 969.49,773.19 968.93,773.63 968.41,774.08 967.93,774.55 967.5,775.03 967.1,775.53 966.76,776.04 966.46,776.56 966.21,777.09 966.01,777.64 965.85,778.18 965.75,778.74 965.69,779.3 965.69,779.86 965.73,780.43 965.83,780.99 965.98,781.55 966.17,782.11 966.42,782.67 966.71,783.21 967.05,783.75 967.44,784.29 967.88,784.81 968.36,785.31 968.88,785.81 969.45,786.29 970.06,786.75 970.71,787.19 971.39,787.62 972.11,788.02 972.87,788.41 973.65,788.77 974.47,789.1 975.31,789.42 976.18,789.7 977.07,789.96 977.98,790.19 978.9,790.4 979.85,790.58 980.8,790.72 981.76,790.84 982.73,790.93 983.7,790.99 984.68,791.02 985.65,791.01 986.62,790.98 987.58,790.92 988.53,790.82 989.47,790.7 990.39,790.55 991.3,790.37 992.18,790.16 993.04,789.92 993.88,789.65 994.68,789.36 995.46,789.05 996.21,788.7 996.92,788.34" fill="#1fbd1a" stroke="#000" stroke-width="1.8"/>
<polygon points="927.04,861.48 927.47,779.31 927.51,778.73 927.59,778.14 927.73,777.57 927.91,777 928.15,776.43 928.44,775.88 928.78,775.34 929.16,774.8 929.6,774.29 930.07,773.78 930.59,773.3 931.16,772.83 931.76,772.38 932.41,771.95 933.09,771.54 933.81,771.15 934.56,770.79 935.34,770.45 936.16,770.14 937,769.85 937.87,769.59 938.75,769.35 939.66,769.14 940.59,768.96 941.54,768.81 942.49,768.69 943.46,768.6 944.44,768.54 945.42,768.5 946.4,768.5 947.39,768.53 948.37,768.59 949.35,768.67 950.32,768.79 951.28,768.93 952.22,769.11 953.16,769.31 954.07,769.54 954.97,769.8 955.84,770.08 956.69,770.39 957.52,770.72 958.31,771.08 959.07,771.47 959.8,771.87 960.49,772.3 961.15,772.74 961.77,773.21 962.35,773.69 962.88,774.19 963.37,774.71 963.82,775.24 964.22,775.78 964.57,776.33 964.87,776.89 965.12,777.46 965.33,778.04 965.48,778.62 965.58,779.2 965.63,779.79 965.62,780.38 963.5,862.64 963.44,863.26 963.34,863.88 963.18,864.49 962.97,865.09 962.72,865.68 962.42,866.27 962.07,866.84 961.67,867.4 961.23,867.95 960.74,868.47 960.21,868.98 959.63,869.47 959.02,869.94 958.37,870.39 957.68,870.82 956.95,871.22 956.2,871.59 955.41,871.94 954.59,872.26 953.75,872.55 952.88,872.81 951.99,873.03 951.08,873.23 950.16,873.4 949.22,873.53 948.27,873.63 947.31,873.7 946.35,873.74 945.38,873.74 944.41,873.71 943.45,873.64 942.49,873.55 941.53,873.42 940.59,873.25 939.67,873.06 938.75,872.83 937.86,872.58 936.99,872.29 936.14,871.97 935.32,871.63 934.52,871.26 933.76,870.86 933.03,870.44 932.33,870 931.67,869.53 931.05,869.04 930.47,868.53 929.93,868.01 929.43,867.46 928.98,866.91 928.57,866.34 928.21,865.75 927.89,865.16 927.63,864.56 927.41,863.95 927.24,863.33 927.12,862.72 927.06,862.1" fill="url(#bg8)"/>
<polygon points="927.04,861.48 927.47,779.31 927.51,778.73 927.59,778.14 927.73,777.57 927.91,777 928.15,776.43 928.44,775.88 928.78,775.34 929.16,774.8 929.6,774.29 930.07,773.78 930.59,773.3 931.16,772.83 931.76,772.38 932.41,771.95 933.09,771.54 933.81,771.15 934.56,770.79 935.34,770.45 936.16,770.14 937,769.85 937.87,769.59 938.75,769.35 939.66,769.14 940.59,768.96 941.54,768.81 942.49,768.69 943.46,768.6 944.44,768.54 945.42,768.5 946.4,768.5 947.39,768.53 948.37,768.59 949.35,768.67 950.32,768.79 951.28,768.93 952.22,769.11 953.16,769.31 954.07,769.54 954.97,769.8 955.84,770.08 956.69,770.39 957.52,770.72 958.31,771.08 959.07,771.47 959.8,771.87 960.49,772.3 961.15,772.74 961.77,773.21 962.35,773.69 962.88,774.19 963.37,774.71 963.82,775.24 964.22,775.78 964.57,776.33 964.87,776.89 965.12,777.46 965.33,778.04 965.48,778.62 965.58,779.2 965.63,779.79 965.62,780.38 963.5,862.64 963.44,863.26 963.34,863.88 963.18,864.49 962.97,865.09 962.72,865.68 962.42,866.27 962.07,866.84 961.67,867.4 961.23,867.95 960.74,868.47 960.21,868.98 959.63,869.47 959.02,869.94 958.37,870.39 957.68,870.82 956.95,871.22 956.2,871.59 955.41,871.94 954.59,872.26 953.75,872.55 952.88,872.81 951.99,873.03 951.08,873.23 950.16,873.4 949.22,873.53 948.27,873.63 947.31,873.7 946.35,873.74 945.38,873.74 944.41,873.71 943.45,873.64 942.49,873.55 941.53,873.42 940.59,873.25 939.67,873.06 938.75,872.83 937.86,872.58 936.99,872.29 936.14,871.97 935.32,871.63 934.52,871.26 933.76,870.86 933.03,870.44 932.33,870 931.67,869.53 931.05,869.04 930.47,868.53 929.93,868.01 929.43,867.46 928.98,866.91 928.57,866.34 928.21,865.75 927.89,865.16 927.63,864.56 927.41,863.95 927.24,863.33 927.12,862.72 927.06,862.1" fill="url(#bs8)"/>
<polyline points="927.04,861.48 927.06,862.1 927.12,862.72 927.24,863.33 927.41,863.95 927.63,864.56 927.89,865.16 928.21,865.75 928.57,866.34 928.98,866.91 929.43,867.46 929.93,868.01 930.47,868.53 931.05,869.04 931.67,869.53 932.33,870 933.03,870.44 933.76,870.86 934.52,871.26 935.32,871.63 936.14,871.97 936.99,872.29 937.86,872.58 938.75,872.83 939.67,873.06 940.59,873.25 941.53,873.42 942.49,873.55 943.45,873.64 944.41,873.71 945.38,873.74 946.35,873.74 947.31,873.7 948.27,873.63 949.22,873.53 950.16,873.4 951.08,873.23 951.99,873.03 952.88,872.81 953.75,872.55 954.59,872.26 955.41,871.94 956.2,871.59 956.95,871.22 957.68,870.82 958.37,870.39 959.02,869.94 959.63,869.47 960.21,868.98 960.74,868.47 961.23,867.95 961.67,867.4 962.07,866.84 962.42,866.27 962.72,865.68 962.97,865.09 963.18,864.49 963.34,863.88 963.44,863.26 963.5,862.64" fill="none" stroke="#111" stroke-width="1.6"/>
<polygon points="960.27,787.73 960.95,787.31 961.59,786.86 962.19,786.39 962.75,785.91 963.26,785.41 963.72,784.89 964.13,784.36 964.5,783.82 964.81,783.26 965.08,782.7 965.29,782.13 965.45,781.55 965.56,780.96 965.62,780.38 965.63,779.79 965.58,779.2 965.48,778.62 965.33,778.04 965.12,777.46 964.87,776.89 964.57,776.33 964.22,775.78 963.82,775.24 963.37,774.71 962.88,774.19 962.35,773.69 961.77,773.21 961.15,772.74 960.49,772.3 959.8,771.87 959.07,771.47 958.31,771.08 957.52,770.72 956.69,770.39 955.84,770.08 954.97,769.8 954.07,769.54 953.16,769.31 952.22,769.11 951.28,768.93 950.32,768.79 949.35,768.67 948.37,768.59 947.39,768.53 946.4,768.5 945.42,768.5 944.44,768.54 943.46,768.6 942.49,768.69 941.54,768.81 940.59,768.96 939.66,769.14 938.75,769.35 937.87,769.59 937,769.85 936.16,770.14 935.34,770.45 934.56,770.79 933.81,771.15 933.09,771.54 932.41,771.95 931.76,772.38 931.16,772.83 930.59,773.3 930.07,773.78 929.6,774.29 929.16,774.8 928.78,775.34 928.44,775.88 928.15,776.43 927.91,777 927.73,777.57 927.59,778.14 927.51,778.73 927.47,779.31 927.49,779.9 927.56,780.49 927.69,781.07 927.86,781.65 928.09,782.23 928.37,782.8 928.7,783.36 929.08,783.91 929.5,784.45 929.98,784.98 930.5,785.5 931.06,786 931.67,786.48 932.33,786.94 933.02,787.38 933.75,787.8 934.51,788.2 935.31,788.58 936.14,788.93 937.01,789.25 937.89,789.55 938.81,789.82 939.74,790.07 940.7,790.28 941.67,790.46 942.66,790.62 943.65,790.74 944.66,790.83 945.67,790.89 946.68,790.92 947.69,790.92 948.7,790.88 949.7,790.82 950.7,790.72 951.68,790.59 952.65,790.43 953.6,790.24 954.53,790.03 955.44,789.78 956.32,789.5 957.17,789.2 958,788.87 958.79,788.51 959.55,788.13" fill="#c9a232" stroke="#000" stroke-width="1.8"/>
<polygon points="925.75,775.66 925.26,886.74 925.23,887.4 925.14,888.05 925.01,888.7 924.82,889.34 924.58,889.98 924.29,890.61 923.95,891.23 923.57,891.83 923.13,892.43 922.65,893 922.13,893.56 921.56,894.1 920.95,894.62 920.3,895.12 919.61,895.59 918.88,896.04 918.12,896.46 917.32,896.85 916.5,897.22 915.64,897.56 914.76,897.86 913.86,898.14 912.93,898.38 911.99,898.59 911.03,898.77 910.06,898.91 909.08,899.01 908.09,899.09 907.1,899.12 906.11,899.13 905.11,899.09 904.12,899.02 903.14,898.92 902.17,898.78 901.21,898.61 900.27,898.4 899.34,898.16 898.43,897.89 897.55,897.59 896.69,897.25 895.86,896.89 895.06,896.5 894.3,896.08 893.56,895.63 892.87,895.16 892.21,894.67 891.59,894.15 891.02,893.61 890.49,893.06 890,892.48 889.56,891.89 889.17,891.29 888.83,890.67 888.53,890.05 888.28,889.41 888.09,888.77 887.95,888.12 887.85,887.46 887.81,886.81 885.93,775.77 885.94,775.16 886,774.55 886.12,773.95 886.3,773.35 886.53,772.75 886.81,772.17 887.14,771.59 887.52,771.03 887.95,770.48 888.43,769.94 888.96,769.42 889.53,768.91 890.14,768.43 890.8,767.96 891.49,767.51 892.23,767.09 893,766.69 893.8,766.31 894.64,765.96 895.51,765.63 896.4,765.33 897.32,765.06 898.26,764.81 899.22,764.6 900.2,764.41 901.19,764.26 902.19,764.13 903.21,764.03 904.23,763.97 905.25,763.94 906.28,763.93 907.31,763.96 908.33,764.02 909.35,764.11 910.35,764.23 911.35,764.38 912.33,764.56 913.29,764.77 914.23,765.01 915.15,765.28 916.05,765.57 916.92,765.89 917.76,766.24 918.57,766.61 919.35,767.01 920.09,767.43 920.79,767.87 921.45,768.33 922.07,768.82 922.65,769.32 923.18,769.84 923.66,770.37 924.1,770.92 924.49,771.49 924.83,772.06 925.11,772.64 925.35,773.24 925.53,773.83 925.66,774.44 925.73,775.05" fill="url(#bg9)"/>
<polygon points="925.75,775.66 925.26,886.74 925.23,887.4 925.14,888.05 925.01,888.7 924.82,889.34 924.58,889.98 924.29,890.61 923.95,891.23 923.57,891.83 923.13,892.43 922.65,893 922.13,893.56 921.56,894.1 920.95,894.62 920.3,895.12 919.61,895.59 918.88,896.04 918.12,896.46 917.32,896.85 916.5,897.22 915.64,897.56 914.76,897.86 913.86,898.14 912.93,898.38 911.99,898.59 911.03,898.77 910.06,898.91 909.08,899.01 908.09,899.09 907.1,899.12 906.11,899.13 905.11,899.09 904.12,899.02 903.14,898.92 902.17,898.78 901.21,898.61 900.27,898.4 899.34,898.16 898.43,897.89 897.55,897.59 896.69,897.25 895.86,896.89 895.06,896.5 894.3,896.08 893.56,895.63 892.87,895.16 892.21,894.67 891.59,894.15 891.02,893.61 890.49,893.06 890,892.48 889.56,891.89 889.17,891.29 888.83,890.67 888.53,890.05 888.28,889.41 888.09,888.77 887.95,888.12 887.85,887.46 887.81,886.81 885.93,775.77 885.94,775.16 886,774.55 886.12,773.95 886.3,773.35 886.53,772.75 886.81,772.17 887.14,771.59 887.52,771.03 887.95,770.48 888.43,769.94 888.96,769.42 889.53,768.91 890.14,768.43 890.8,767.96 891.49,767.51 892.23,767.09 893,766.69 893.8,766.31 894.64,765.96 895.51,765.63 896.4,765.33 897.32,765.06 898.26,764.81 899.22,764.6 900.2,764.41 901.19,764.26 902.19,764.13 903.21,764.03 904.23,763.97 905.25,763.94 906.28,763.93 907.31,763.96 908.33,764.02 909.35,764.11 910.35,764.23 911.35,764.38 912.33,764.56 913.29,764.77 914.23,765.01 915.15,765.28 916.05,765.57 916.92,765.89 917.76,766.24 918.57,766.61 919.35,767.01 920.09,767.43 920.79,767.87 921.45,768.33 922.07,768.82 922.65,769.32 923.18,769.84 923.66,770.37 924.1,770.92 924.49,771.49 924.83,772.06 925.11,772.64 925.35,773.24 925.53,773.83 925.66,774.44 925.73,775.05" fill="url(#bs9)"/>
<polyline points="887.81,886.81 887.85,887.46 887.95,888.12 888.09,888.77 888.28,889.41 888.53,890.05 888.83,890.67 889.17,891.29 889.56,891.89 890,892.48 890.49,893.06 891.02,893.61 891.59,894.15 892.21,894.67 892.87,895.16 893.56,895.63 894.3,896.08 895.06,896.5 895.86,896.89 896.69,897.25 897.55,897.59 898.43,897.89 899.34,898.16 900.27,898.4 901.21,898.61 902.17,898.78 903.14,898.92 904.12,899.02 905.11,899.09 906.11,899.13 907.1,899.12 908.09,899.09 909.08,899.01 910.06,898.91 911.03,898.77 911.99,898.59 912.93,898.38 913.86,898.14 914.76,897.86 915.64,897.56 916.5,897.22 917.32,896.85 918.12,896.46 918.88,896.04 919.61,895.59 920.3,895.12 920.95,894.62 921.56,894.1 922.13,893.56 922.65,893 923.13,892.43 923.57,891.83 923.95,891.23 924.29,890.61 924.58,889.98 924.82,889.34 925.01,888.7 925.14,888.05 925.23,887.4 925.26,886.74" fill="none" stroke="#111" stroke-width="1.6"/>
<polygon points="919.73,783.91 920.47,783.47 921.16,783 921.81,782.52 922.42,782.02 922.98,781.49 923.49,780.96 923.95,780.4 924.36,779.84 924.72,779.26 925.02,778.68 925.28,778.08 925.48,777.48 925.62,776.88 925.71,776.27 925.75,775.66 925.73,775.05 925.66,774.44 925.53,773.83 925.35,773.24 925.11,772.64 924.83,772.06 924.49,771.49 924.1,770.92 923.66,770.37 923.18,769.84 922.65,769.32 922.07,768.82 921.45,768.33 920.79,767.87 920.09,767.43 919.35,767.01 918.57,766.61 917.76,766.24 916.92,765.89 916.05,765.57 915.15,765.28 914.23,765.01 913.29,764.77 912.33,764.56 911.35,764.38 910.35,764.23 909.35,764.11 908.33,764.02 907.31,763.96 906.28,763.93 905.25,763.94 904.23,763.97 903.21,764.03 902.19,764.13 901.19,764.26 900.2,764.41 899.22,764.6 898.26,764.81 897.32,765.06 896.4,765.33 895.51,765.63 894.64,765.96 893.8,766.31 893,766.69 892.23,767.09 891.49,767.51 890.8,767.96 890.14,768.43 889.53,768.91 888.96,769.42 888.43,769.94 887.95,770.48 887.52,771.03 887.14,771.59 886.81,772.17 886.53,772.75 886.3,773.35 886.12,773.95 886,774.55 885.94,775.16 885.93,775.77 885.97,776.38 886.07,776.99 886.22,777.59 886.42,778.19 886.68,778.78 886.99,779.37 887.36,779.94 887.78,780.51 888.24,781.05 888.76,781.59 889.32,782.11 889.93,782.61 890.59,783.09 891.29,783.55 892.03,783.99 892.8,784.4 893.62,784.79 894.47,785.16 895.35,785.5 896.26,785.81 897.2,786.09 898.17,786.34 899.15,786.56 900.16,786.75 901.18,786.91 902.21,787.04 903.26,787.14 904.31,787.2 905.37,787.23 906.42,787.23 907.48,787.19 908.53,787.12 909.58,787.02 910.61,786.89 911.63,786.72 912.63,786.53 913.62,786.3 914.58,786.04 915.51,785.75 916.42,785.44 917.3,785.1 918.15,784.73 918.96,784.33" fill="#c4186c" stroke="#000" stroke-width="1.8"/>
<line x1="711.69" y1="568.43" x2="900.24" y2="668.19" stroke="#000" stroke-width="2.8" stroke-linecap="round"/>
<line x1="900.24" y1="668.19" x2="1101.55" y2="570.98" stroke="#000" stroke-width="2.8" stroke-linecap="round"/>
<line x1="1101.55" y1="570.98" x2="909.48" y2="496.16" stroke="#000" stroke-width="2.8" stroke-linecap="round"/>
<line x1="909.48" y1="496.16" x2="711.69" y2="568.43" stroke="#000" stroke-width="2.8" stroke-linecap="round"/>
<line x1="733.63" y1="789.25" x2="711.69" y2="568.43" stroke="#000" stroke-width="2.8" stroke-linecap="round"/>
<line x1="902.38" y1="910.87" x2="900.24" y2="668.19" stroke="#000" stroke-width="2.8" stroke-linecap="round"/>
<line x1="1081.76" y1="793.76" x2="1101.55" y2="570.98" stroke="#000" stroke-width="2.8" stroke-linecap="round"/>
<line x1="733.63" y1="789.25" x2="902.38" y2="910.87" stroke="#000" stroke-width="2.8" stroke-linecap="round"/>
<line x1="902.38" y1="910.87" x2="1081.76" y2="793.76" stroke="#000" stroke-width="2.8" stroke-linecap="round"/>
<line x1="745.95" y1="798.13" x2="751.9" y2="795.05" stroke="#000" stroke-width="2.2" stroke-linecap="round"/>
<line x1="758.55" y1="807.21" x2="764.52" y2="804.06" stroke="#000" stroke-width="2.2" stroke-linecap="round"/>
<line x1="771.44" y1="816.5" x2="777.43" y2="813.27" stroke="#000" stroke-width="2.2" stroke-linecap="round"/>
<line x1="784.63" y1="826.01" x2="790.64" y2="822.71" stroke="#000" stroke-width="2.2" stroke-linecap="round"/>
<line x1="798.13" y1="835.74" x2="804.16" y2="832.36" stroke="#000" stroke-width="2.2" stroke-linecap="round"/>
<line x1="811.95" y1="845.7" x2="818" y2="842.25" stroke="#000" stroke-width="2.2" stroke-linecap="round"/>
<line x1="826.11" y1="855.91" x2="832.17" y2="852.37" stroke="#000" stroke-width="2.2" stroke-linecap="round"/>
<line x1="840.62" y1="866.36" x2="846.69" y2="862.74" stroke="#000" stroke-width="2.2" stroke-linecap="round"/>
<line x1="855.48" y1="877.07" x2="861.57" y2="873.36" stroke="#000" stroke-width="2.2" stroke-linecap="round"/>
<line x1="870.72" y1="888.06" x2="876.82" y2="884.25" stroke="#000" stroke-width="2.2" stroke-linecap="round"/>
<line x1="886.35" y1="899.32" x2="892.46" y2="895.42" stroke="#000" stroke-width="2.2" stroke-linecap="round"/>
<line x1="1081.76" y1="793.76" x2="1072.47" y2="788.65" stroke="#000" stroke-width="2.5" stroke-linecap="round"/>
<line x1="1082.75" y1="782.64" x2="1077.67" y2="779.89" stroke="#000" stroke-width="2.5" stroke-linecap="round"/>
<line x1="1083.75" y1="771.4" x2="1074.34" y2="766.38" stroke="#000" stroke-width="2.5" stroke-linecap="round"/>
<line x1="1084.76" y1="760.02" x2="1079.61" y2="757.31" stroke="#000" stroke-width="2.5" stroke-linecap="round"/>
<line x1="1085.78" y1="748.49" x2="1076.24" y2="743.57" stroke="#000" stroke-width="2.5" stroke-linecap="round"/>
<line x1="1086.82" y1="736.83" x2="1081.6" y2="734.18" stroke="#000" stroke-width="2.5" stroke-linecap="round"/>
<line x1="1087.87" y1="725.02" x2="1078.2" y2="720.19" stroke="#000" stroke-width="2.5" stroke-linecap="round"/>
<line x1="1088.93" y1="713.07" x2="1083.64" y2="710.47" stroke="#000" stroke-width="2.5" stroke-linecap="round"/>
<line x1="1090" y1="700.96" x2="1080.2" y2="696.23" stroke="#000" stroke-width="2.5" stroke-linecap="round"/>
<line x1="1091.09" y1="688.7" x2="1085.73" y2="686.16" stroke="#000" stroke-width="2.5" stroke-linecap="round"/>
<line x1="1092.2" y1="676.29" x2="1082.25" y2="671.67" stroke="#000" stroke-width="2.5" stroke-linecap="round"/>
<line x1="1093.31" y1="663.71" x2="1087.87" y2="661.23" stroke="#000" stroke-width="2.5" stroke-linecap="round"/>
<line x1="1094.45" y1="650.98" x2="1084.36" y2="646.47" stroke="#000" stroke-width="2.5" stroke-linecap="round"/>
<line x1="1095.59" y1="638.08" x2="1090.07" y2="635.66" stroke="#000" stroke-width="2.5" stroke-linecap="round"/>
<line x1="1096.75" y1="625.01" x2="1086.52" y2="620.63" stroke="#000" stroke-width="2.5" stroke-linecap="round"/>
<line x1="1097.93" y1="611.77" x2="1092.33" y2="609.42" stroke="#000" stroke-width="2.5" stroke-linecap="round"/>
<line x1="1099.12" y1="598.35" x2="1088.74" y2="594.1" stroke="#000" stroke-width="2.5" stroke-linecap="round"/>
<line x1="1100.33" y1="584.75" x2="1094.64" y2="582.48" stroke="#000" stroke-width="2.5" stroke-linecap="round"/>
<line x1="1101.55" y1="570.98" x2="1091.01" y2="566.87" stroke="#000" stroke-width="2.5" stroke-linecap="round"/>
<g font-family="Liberation Serif" fill="#000">
<text transform="matrix(1.0036 -0.5196 0.7236 0.5431 720.54 813.04)" font-size="19.6" font-weight="normal" text-anchor="middle" stroke="#000" stroke-width="0.45" y="6.47">15.2</text>
<text transform="matrix(1.0111 -0.5439 0.7580 0.5689 745.84 832.04)" font-size="19.6" font-weight="normal" text-anchor="middle" stroke="#000" stroke-width="0.45" y="6.47">23.9</text>
<text transform="matrix(1.0181 -0.5699 0.7948 0.5966 772.36 851.94)" font-size="19.6" font-weight="normal" text-anchor="middle" stroke="#000" stroke-width="0.45" y="6.47">33.6</text>
<text transform="matrix(1.0246 -0.5979 0.8345 0.6263 800.19 872.82)" font-size="19.6" font-weight="normal" text-anchor="middle" stroke="#000" stroke-width="0.45" y="6.47">47.7</text>
<text transform="matrix(1.0305 -0.6280 0.8772 0.6583 829.42 894.76)" font-size="19.6" font-weight="normal" text-anchor="middle" stroke="#000" stroke-width="0.45" y="6.47">66.5</text>
<text transform="matrix(1.0356 -0.6604 0.9232 0.6929 860.16 917.84)" font-size="19.6" font-weight="normal" text-anchor="middle" stroke="#000" stroke-width="0.45" y="6.47">81.3</text>
<text transform="matrix(0.8172 0.4492 -0.0840 0.8953 1090.57 798.10)" font-size="23.5" font-weight="normal" text-anchor="start" stroke="#000" stroke-width="0.45" y="7.76">0</text>
<text transform="matrix(0.8284 0.4418 -0.0861 0.9172 1092.68 775.66)" font-size="23.5" font-weight="normal" text-anchor="start" stroke="#000" stroke-width="0.45" y="7.76">200</text>
<text transform="matrix(0.8398 0.4340 -0.0882 0.9400 1094.84 752.67)" font-size="23.5" font-weight="normal" text-anchor="start" stroke="#000" stroke-width="0.45" y="7.76">400</text>
<text transform="matrix(0.8516 0.4256 -0.0905 0.9636 1097.05 729.11)" font-size="23.5" font-weight="normal" text-anchor="start" stroke="#000" stroke-width="0.45" y="7.76">600</text>
<text transform="matrix(0.8637 0.4167 -0.0928 0.9881 1099.32 704.95)" font-size="23.5" font-weight="normal" text-anchor="start" stroke="#000" stroke-width="0.45" y="7.76">800</text>
<text transform="matrix(0.8762 0.4071 -0.0951 1.0136 1101.64 680.18)" font-size="23.5" font-weight="normal" text-anchor="start" stroke="#000" stroke-width="0.45" y="7.76">1000</text>
<text transform="matrix(0.8890 0.3969 -0.0976 1.0400 1104.03 654.76)" font-size="23.5" font-weight="normal" text-anchor="start" stroke="#000" stroke-width="0.45" y="7.76">1200</text>
<text transform="matrix(0.9022 0.3861 -0.1002 1.0675 1106.48 628.67)" font-size="23.5" font-weight="normal" text-anchor="start" stroke="#000" stroke-width="0.45" y="7.76">1400</text>
<text transform="matrix(0.9157 0.3745 -0.1029 1.0961 1108.99 601.89)" font-size="23.5" font-weight="normal" text-anchor="start" stroke="#000" stroke-width="0.45" y="7.76">1600</text>
<text transform="matrix(0.9297 0.3622 -0.1057 1.1259 1111.58 574.38)" font-size="23.5" font-weight="normal" text-anchor="start" stroke="#000" stroke-width="0.45" y="7.76">1800</text>
<text transform="matrix(0.7852 0.6254 -1.0682 0.5970 740.01 875.51)" font-size="19.6" font-weight="bold" text-anchor="middle" y="6.47">Energy Density (Wh/kg)</text>
<text transform="matrix(0.1392 -1.1219 1.1074 0.5191 1156.86 712.57)" font-size="19.5" font-weight="bold" text-anchor="middle" y="6.44">Power Density (W/kg)</text>
</g>
<rect x="878.5" y="538.75" width="31" height="15.00" fill="url(#lg0)" stroke="#000" stroke-width="1.6"/>
<text x="915" y="551" font-family="Liberation Serif" font-weight="bold" font-size="14.5">This Work</text>
<rect x="878.5" y="557" width="31" height="15.00" fill="url(#lg1)" stroke="#000" stroke-width="1.6"/>
<text x="915" y="568.75" font-family="Liberation Serif" font-weight="bold" font-size="14.5">Sr-MOF/CNTs</text>
<rect x="878.5" y="575" width="31" height="15.50" fill="url(#lg2)" stroke="#000" stroke-width="1.6"/>
<text x="915" y="587" font-family="Liberation Serif" font-weight="bold" font-size="14.5">WO<tspan font-size="10" dy="3">3</tspan><tspan dy="-3">/Ti</tspan><tspan font-size="10" dy="3">3</tspan><tspan dy="-3">C</tspan><tspan font-size="10" dy="3">2</tspan><tspan dy="-3">@GQDs</tspan></text>
<rect x="878.5" y="595.5" width="31" height="15.75" fill="url(#lg3)" stroke="#000" stroke-width="1.6"/>
<text x="915" y="607.5" font-family="Liberation Serif" font-weight="bold" font-size="14.5">Cu/CNTs</text>
<text x="615" y="512" font-family="Liberation Serif" font-weight="bold" font-size="26">(d)</text></g>
</svg></body></html>
